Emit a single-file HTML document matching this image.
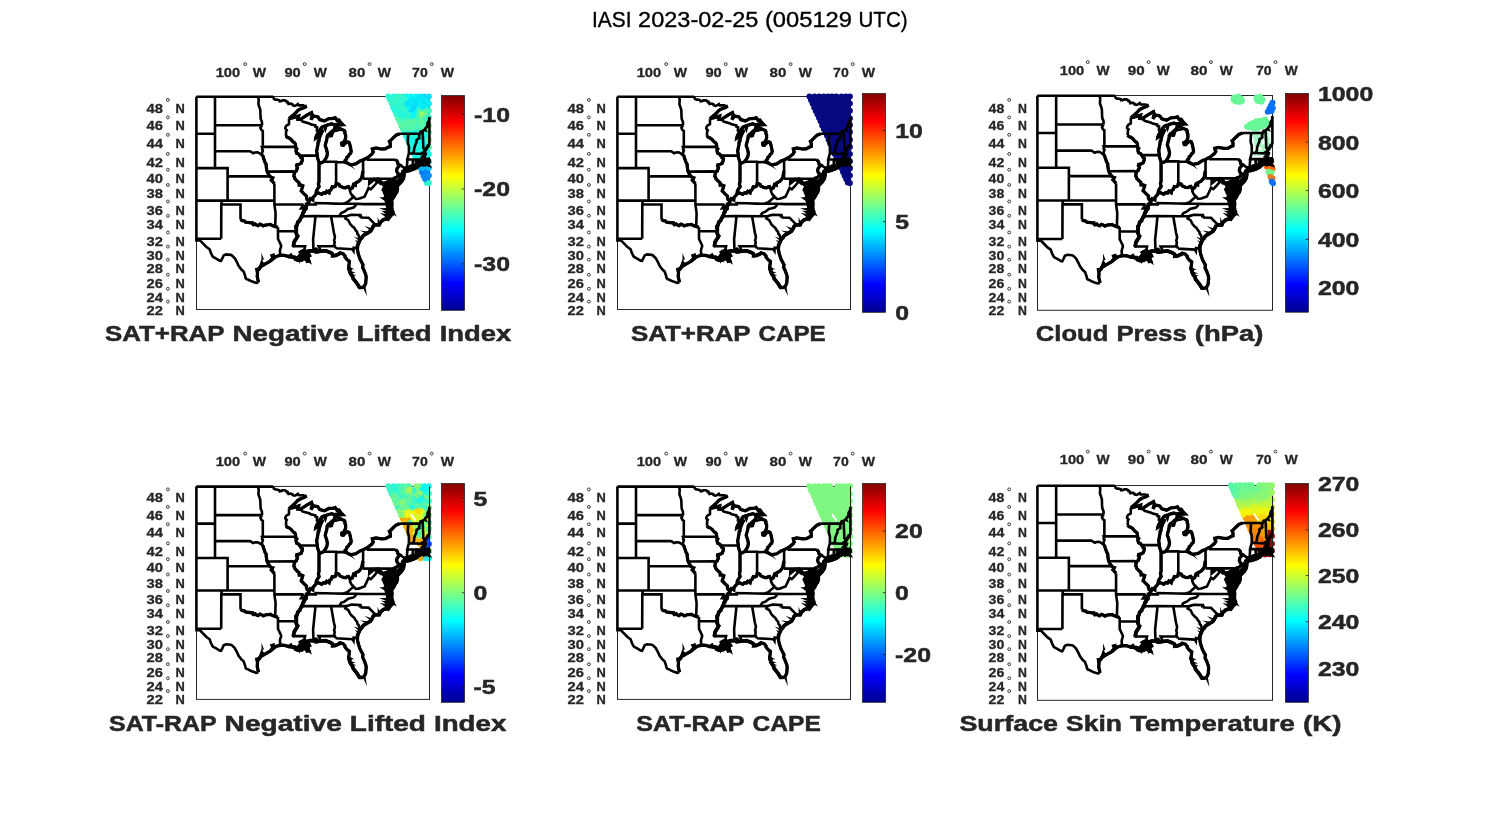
<!DOCTYPE html>
<html><head><meta charset="utf-8"><title>IASI 2023-02-25</title>
<style>html,body{margin:0;padding:0;background:#fff;overflow:hidden}svg{display:block;will-change:transform;-webkit-font-smoothing:antialiased}text{font-family:"Liberation Sans", sans-serif}</style>
</head><body>
<svg width="1500" height="825" viewBox="0 0 1500 825">
<defs>
<linearGradient id="jet" x1="0" y1="1" x2="0" y2="0"><stop offset="0" stop-color="#00008f"/><stop offset="0.125" stop-color="#0000ff"/><stop offset="0.375" stop-color="#00ffff"/><stop offset="0.625" stop-color="#ffff00"/><stop offset="0.875" stop-color="#ff0000"/><stop offset="1" stop-color="#800000"/></linearGradient>
<g id="m"><path d="M-0.1 0.2L-0.1 143.9L2.9 143.9 M-0.1 0.2L76.7 0.2 M232.9 20.4L232.9 48.5 M232.9 63.0L232.9 66.0 M18.5 0.2L18.5 71.6 M-0.1 37.2L18.5 37.2 M18.5 28.7L65.6 28.7 M18.5 54.7L53.4 54.7L54.7 55.3L56.6 56.7L58.5 56.0L60.4 55.8L61.6 56.0L63.2 57.0L64.8 58.1L66.3 59.1 M-0.1 71.6L31.1 71.6L31.1 79.9 M31.1 79.9L73.5 79.9 M31.1 79.9L31.1 104.1 M-0.1 104.1L77.9 104.1 M25.1 104.1L25.1 108.0L24.8 108.0L24.7 142.3 M24.7 142.3L2.3 142.3L2.9 143.9 M25.1 108.0L44.0 108.0L44.0 123.0 M44.0 123.0L45.9 124.2L47.8 124.4L49.0 125.6L50.6 125.8L52.8 126.1L54.4 126.3L55.9 126.3L56.1 127.3L56.9 128.2L58.7 127.4L60.0 128.6L61.6 129.2L62.2 128.6L63.5 127.7L65.4 128.5L66.8 129.4L68.2 128.8L70.1 128.3L72.3 128.2L73.9 127.9L76.1 129.2L78.7 130.0L79.9 130.5L81.5 130.7 M76.7 0.2L77.4 2.3L78.9 3.1L80.1 3.1L82.8 3.8L83.1 4.8L85.1 4.5L85.9 3.9L88.2 3.9L89.8 4.6L90.2 5.6L91.1 5.5L92.0 7.6L94.4 7.1L96.2 8.1L96.2 8.7L97.9 9.3L99.1 9.0L101.4 7.5L102.2 8.9L106.8 8.9L107.6 9.8L108.5 9.5L110.2 9.6 M110.2 9.6L108.5 10.7L106.9 11.4L104.8 12.1L101.5 13.8L99.0 16.5L96.4 18.9L93.8 21.0L92.5 22.2 M92.5 22.2L92.5 27.6L92.2 28.0L90.3 28.8L88.9 30.7L88.8 32.1L90.3 33.6L89.6 34.7L89.6 37.2L89.3 39.4 M89.3 39.4L91.0 41.0L92.3 41.3L94.8 43.1L95.1 43.7L97.0 45.7L97.9 46.1L98.8 47.3L99.3 50.4L99.3 51.7L100.3 52.5L99.5 54.0L99.6 54.8L100.2 56.8L102.4 57.8L102.9 58.9L104.3 60.4L104.5 61.3L105.9 62.2L105.6 64.7L105.0 65.5L104.8 66.7L102.8 67.8L100.3 68.3L100.0 69.6L101.0 71.1L100.9 72.1L100.1 73.1L99.9 74.4L98.1 75.4L98.0 76.8L97.5 78.3L97.4 79.9L98.0 80.5L98.3 82.1L100.3 84.3L102.4 86.0L102.7 88.6L104.1 88.4L106.3 89.3L105.8 91.1L104.7 94.4L105.4 95.1L107.3 97.1L110.0 99.6L110.0 101.5L110.6 103.1L112.4 104.2L112.6 104.5L112.0 106.3L110.9 107.1L110.6 108.0L109.8 108.0L109.8 109.2L109.0 109.9L109.5 111.7L108.6 111.9L109.0 112.8L107.5 113.8L107.5 115.5L106.5 116.0L105.9 118.7L105.0 119.7L105.4 120.3L104.1 121.7L103.2 123.5L103.3 124.2L101.1 125.5L101.1 127.1L100.2 129.4L99.3 129.8L99.4 131.8L100.1 133.1L99.6 134.8L99.4 136.2L100.3 138.0L100.8 139.7L101.2 139.8L100.7 141.0L99.6 142.4L98.3 144.0L97.4 145.8L97.4 147.7L96.6 149.7 M96.6 149.7L108.6 149.7L108.0 152.1L109.3 154.5L110.0 155.7 M61.4 0.2L62.2 3.1L61.9 7.8L62.9 10.7L63.8 13.5L64.0 19.0L64.2 22.4L65.4 25.2L65.6 28.7 M65.6 28.7L63.9 31.4L64.9 33.5L66.3 34.5L66.3 50.4 M66.3 50.4L65.5 50.5L65.9 51.3L65.6 52.8L66.4 53.7L65.3 57.0L66.3 59.1 M66.3 50.4L99.3 50.4 M66.3 59.1L67.0 61.4L67.5 62.9L68.5 65.8L69.7 67.9L69.7 70.0L70.0 71.6L70.2 73.5L70.6 75.0L72.0 77.8L73.5 79.9L75.0 81.1L76.2 81.4L75.7 82.5L74.8 83.6L76.1 85.0L77.9 87.2 M77.9 87.2L77.9 108.0L79.1 116.6L78.7 130.0 M81.5 130.7L81.5 142.4L82.9 145.3L84.3 148.2L84.7 149.7L83.7 152.7L83.4 154.8L83.7 156.6L82.8 159.2 M70.6 75.1L96.1 74.9L98.0 76.8 M77.9 108.0L106.0 108.0L106.6 108.9L104.6 111.9L108.6 111.9 M81.5 134.7L99.6 134.8 M102.9 58.9L120.8 59.1 M104.3 23.0L106.2 25.1L112.7 26.9L114.2 27.8L118.8 28.9L118.9 30.2L120.6 30.7L120.4 33.9L121.7 34.1L121.2 35.4L122.1 36.4 M122.5 65.3L122.5 85.2L121.9 87.3L122.6 90.2L121.1 92.4L119.9 94.4L119.4 97.7 M127.0 65.3L139.6 65.3L139.6 65.8L148.2 65.5 M139.6 65.8L139.6 87.2 M166.6 74.6L166.1 76.1L165.8 78.3L165.3 80.7L164.4 82.5L162.2 84.9L160.1 85.9L158.9 86.6L158.8 88.6L157.1 87.9L155.9 91.4L153.6 92.8L152.0 90.1L150.8 90.3L149.1 91.3L146.8 91.1L143.3 89.5L142.8 88.1L141.5 87.3L139.6 87.2L139.1 89.7L137.2 90.6L135.7 90.3L134.4 93.4L133.2 93.9L132.6 96.4L130.2 94.8L128.9 96.7L127.0 96.3L125.2 97.9L122.1 96.4L120.0 96.9L119.4 97.7L118.5 98.8L116.5 101.0L116.3 103.5L113.7 102.2L112.4 104.2 M110.6 108.0L119.2 108.0L119.1 106.6L129.0 106.8L138.4 107.1L146.7 107.2 M146.7 107.2L150.1 106.1L151.8 104.9L155.4 101.7L157.5 99.8 M157.5 99.8L155.4 98.7L154.2 96.5L153.5 94.8L153.6 92.8 M146.7 107.2L159.3 107.3L168.0 107.6L195.7 107.6 M159.3 107.3L159.0 109.2L157.1 111.0L153.5 111.9L151.7 112.3L147.9 115.2L144.7 116.5L142.7 119.7 M150.3 119.6L142.7 119.7L118.3 119.6L105.0 119.7 M118.3 119.6L118.9 120.5L116.6 143.1L117.0 154.3 M134.6 119.8L137.3 135.8L138.4 140.1L138.1 142.3L137.6 143.8L138.2 145.7L137.7 148.2L138.4 149.7L139.3 151.8 M138.4 149.7L122.1 149.7L123.3 152.1L122.6 154.9 M139.3 151.8L156.0 152.8L157.0 154.4L157.2 151.2L160.9 151.8 M150.3 119.6L148.9 122.0L151.7 123.6L152.2 124.5L153.8 127.7L156.1 130.1L157.8 131.4L159.2 133.9L160.5 135.2L161.0 137.6L161.9 138.2L162.9 141.5L164.3 142.1 M150.3 119.6L155.1 118.2L163.4 118.5L163.4 119.3L164.1 118.9L165.0 121.0L172.0 121.2L179.0 128.3 M157.5 99.8L157.8 101.1L159.3 102.5L162.2 102.2L164.5 101.4L168.0 100.1L169.9 96.2L172.1 91.4L174.3 92.8L177.0 90.0L180.0 86.5L180.3 84.3L183.6 87.0L184.3 85.5 M184.3 85.5L183.6 83.2L181.3 82.4L179.7 83.8L177.7 82.8L175.8 84.3L173.1 86.5L173.2 82.2 M166.6 63.4L166.6 82.2 M166.6 82.2L196.4 82.2 M171.4 60.9L171.4 63.2L199.2 63.2 M199.2 63.2L201.0 65.2L201.5 67.6L203.4 68.6L200.6 71.9L200.1 74.2L201.0 76.5L202.9 78.2L200.6 80.3L198.8 81.6L197.9 83.0 M203.4 68.6L208.3 71.7 M198.8 81.6L197.6 81.2L196.4 82.2L196.4 92.4L201.1 92.5 M184.3 85.5L185.7 87.1L188.6 89.7L186.9 92.9L188.8 93.7L191.3 94.9L193.2 96.5 M196.1 96.5L197.5 96.1L199.9 95.9 M203.2 37.2L223.4 37.1L224.1 35.0L226.1 34.4 M226.1 34.4L227.9 33.3L228.9 33.7L228.4 32.6L229.4 31.2L230.4 30.6L230.2 30.0L231.3 28.6L230.9 27.7L231.1 26.5L231.7 25.2L232.5 24.4L232.9 20.4 M211.9 37.1L211.5 40.7L211.3 46.0L212.4 49.9L212.4 56.8 M212.4 56.8L210.8 62.8L210.9 62.8L210.5 69.1L211.0 69.9L209.4 70.8L209.8 71.6 M223.4 37.1L222.6 39.4L222.9 41.6L220.1 43.4L219.9 46.0L219.0 48.0L217.8 51.2L217.5 54.7L216.8 56.0L217.4 57.0 M212.4 56.8L217.4 57.0L224.8 57.3L225.0 56.9L225.4 56.5L226.4 55.9L227.7 55.8 M226.1 34.4L226.5 43.4L226.8 49.8L226.7 51.4L227.7 52.7L228.5 54.2 M210.9 62.8L221.6 63.1L224.2 63.1L224.2 64.1L224.5 65.1L225.3 65.9L225.8 67.4 M216.5 63.0L216.2 66.6L217.8 69.1 M221.6 63.1L221.6 66.6L221.2 69.0 M203.2 37.2L199.5 38.7L196.4 41.6L193.8 44.3L192.9 44.9L193.8 46.9L193.8 49.9L192.0 50.6L188.8 52.3L185.0 52.5L179.4 51.5L175.8 52.4L176.2 54.3L176.8 55.5L175.6 57.4L171.4 60.9L169.3 62.0L166.6 63.4L163.6 64.5L159.2 67.4L154.2 68.3L152.0 67.4L150.4 66.4L148.2 65.5L148.5 64.1L150.1 62.4L150.4 60.7L151.7 59.8L152.9 57.7L154.2 56.8L154.7 54.7L154.2 52.1L153.5 48.6L152.6 46.0L151.3 45.4L149.1 46.4L147.0 48.7L145.3 48.1L145.1 46.7L146.5 45.9L147.7 47.1L146.5 47.9L146.1 46.9L148.0 45.7L148.3 43.8L149.1 41.6L149.1 38.5L148.3 36.6L148.5 35.4L147.9 34.1L146.0 33.3L141.8 31.4L140.1 30.2L138.4 30.9L137.8 33.6L138.7 33.9L136.8 34.3L135.9 35.4L135.3 37.6L135.0 39.2L134.5 39.3L134.7 37.2L135.0 35.4L134.0 36.3L132.1 38.1L131.7 38.1L130.6 39.8L130.7 40.5L130.1 43.8L129.3 46.4L128.7 49.1L130.0 52.7L130.9 56.7L130.4 59.8L129.1 62.4L127.0 65.3L124.6 66.4L123.6 66.6L122.5 65.8L122.1 64.5L121.4 62.4L120.8 60.2L120.8 59.1L120.2 54.4L121.4 48.2L121.7 45.1L122.4 44.7L122.7 42.0L124.0 38.5L125.8 34.5L124.6 37.2L123.4 38.5L121.4 39.8L119.5 41.2L119.9 39.4L120.8 37.6L122.1 36.3L123.6 33.2L125.5 30.5L127.7 29.6L128.7 31.8L129.3 29.6L130.6 28.6L135.3 27.3L140.2 29.4L142.8 28.2L146.3 28.2L144.1 25.9L142.5 23.6L140.6 23.8L138.7 21.2L137.2 21.8L135.3 22.0L132.3 22.1L128.0 24.4L123.3 23.2L121.4 20.4L120.2 20.0L116.9 19.5L114.5 23.1L115.8 18.5L115.0 16.1L110.6 18.5L105.3 21.9L104.3 23.0L101.4 22.7L101.9 20.9L102.2 19.5L99.4 20.4L94.4 21.8L93.7 21.3 M232.9 48.5L231.6 49.2L231.6 49.8L230.7 50.7L230.1 51.8L229.2 53.0L228.5 54.1L227.9 55.5L227.7 55.8L227.9 56.8L229.0 57.4L228.7 58.3L227.4 58.8L227.1 59.7L226.4 60.4L227.3 60.7L228.4 61.5L228.8 63.6L229.7 65.2L231.0 65.6L231.8 65.3L232.9 65.1L232.7 63.8L232.4 63.2L231.6 62.8L232.3 62.6L232.9 63.0 M232.9 66.0L231.0 66.4L229.1 67.0L228.7 67.3L229.0 65.4L228.4 65.3L227.1 66.6L226.0 67.4L225.3 67.8L224.7 67.8L224.4 65.8L224.1 64.9L223.9 67.4L223.6 68.6L221.2 69.1L219.7 69.1L218.1 69.4L214.6 69.5L212.9 70.4L210.6 71.5L209.8 71.8L209.1 72.7L208.0 73.3L208.3 71.7L208.0 73.3L207.5 74.1 M207.5 75.0L208.3 75.4L210.8 75.1L214.0 74.3L217.8 72.9L221.2 71.1L218.4 71.8L216.2 72.2L218.8 70.3L216.2 71.9L213.6 72.0L210.8 72.5L209.1 73.3L207.5 75.0 M227.7 68.7L229.1 67.7L230.1 68.5L227.7 68.7 M231.6 69.1L232.6 68.9L232.9 69.4L231.6 69.1 M206.1 75.8L207.1 74.5L207.4 75.0L206.1 75.8 M207.5 74.1L206.4 74.7L206.0 76.0L207.7 76.0L207.7 78.3L207.1 82.0L205.1 85.2L201.8 88.6L202.0 86.7L200.1 85.8L198.3 84.0L197.9 83.0 M197.9 83.0L197.9 84.4L198.9 87.3L199.5 88.9L200.8 89.7L201.1 92.5L200.9 93.5L200.1 96.1L199.2 96.9L197.6 100.1L195.7 103.1L195.3 103.3L195.1 102.1L195.7 99.7L197.3 96.5L196.1 96.3L195.7 94.1L193.2 92.1L193.8 90.1L192.9 88.9L193.8 87.3L194.5 85.2L195.1 83.6L194.6 83.6L192.0 86.0L192.1 88.3L192.0 92.1L192.6 92.9L193.1 95.8L191.3 94.9L193.2 96.5L193.6 97.1L193.2 99.3L190.1 96.5L193.2 99.7L193.2 101.7L190.1 100.1L192.6 102.3L193.2 104.1L188.8 102.1L193.2 104.5L195.1 104.6L195.3 105.2L195.7 107.6 M195.7 107.6L195.2 110.3L195.7 113.5L196.4 117.3L194.5 119.1L191.8 122.7L190.7 121.9L186.9 123.1L183.8 125.8L182.8 128.4L179.0 128.3 M195.7 107.6L194.8 110.3L195.1 111.9L190.7 111.9L195.1 112.7L196.7 115.0L195.1 116.5L192.0 116.9L188.8 115.8L192.0 117.7L192.0 119.6L188.8 118.9L191.3 120.8L191.8 122.7 M179.0 128.3L176.8 129.5L175.0 133.3L174.0 134.8L170.5 136.7L167.4 138.6L165.8 140.1L165.5 141.2L164.3 142.1L163.0 144.5L161.7 147.5L161.1 148.9L160.9 151.8 M160.9 151.8L161.1 154.1L161.9 157.7L163.6 162.8L166.5 168.2L166.1 170.7L167.7 174.2L169.3 178.5L169.7 180.6L169.2 186.9L168.0 189.4L167.1 190.4L165.2 191.1L163.0 191.1L160.5 186.9L158.6 184.5L156.7 182.4L156.1 179.9L154.5 177.8L153.5 176.0L152.9 174.2L154.2 171.7L152.6 173.2L152.1 171.4L152.6 167.8L152.9 164.9L150.7 163.3L148.5 160.6L148.5 159.4L146.6 157.3L143.5 156.4L142.5 157.3L142.2 157.7L140.6 158.1L138.4 159.2L136.2 159.4L136.5 158.2L135.9 157.3L134.0 156.1L129.0 154.2L124.6 154.6L122.6 154.9 M122.6 154.9L121.4 155.3L119.5 155.4L119.5 152.0L118.9 154.4L117.0 154.3L116.1 154.4L113.9 154.1L112.6 154.3L111.0 154.8L110.0 155.7 M110.0 155.7L108.2 155.2L106.3 154.4L104.4 155.5L106.3 156.6L108.2 156.3L109.5 156.6L112.0 157.0L113.2 159.2L110.7 160.6L111.7 162.1L111.7 163.1L112.3 164.2L110.7 164.7L109.5 162.4L107.3 162.3L106.9 162.4L105.7 163.5L103.8 163.9L101.3 163.9L98.8 162.8L98.1 160.6L95.3 160.6L94.4 158.8L92.5 160.2L88.1 158.9L85.9 158.7L82.8 159.2 M82.8 159.2L81.1 159.5L79.2 160.2L77.0 161.6L76.7 158.8L75.5 159.2L76.7 162.1L74.8 163.6L73.6 164.7L69.5 167.1L66.6 168.5L65.4 166.4L64.4 169.2L62.6 172.5L60.4 172.8L61.0 176.4L60.7 179.9L61.8 185.0L61.9 185.8 M61.9 185.8L59.7 186.4L55.9 185.1L52.8 183.8L51.5 182.9L50.3 182.7L49.2 181.7L48.6 179.2L47.1 174.9L44.9 173.0L42.1 169.4L40.8 166.4L38.3 161.7L35.2 158.7L34.2 158.4L29.5 157.9L27.2 158.9L25.9 161.7L24.5 164.4L23.2 164.2L20.1 162.3L16.3 160.2L14.4 156.6L13.1 152.8L10.0 150.6L6.2 146.7L3.7 144.1L2.9 143.9" fill="none" stroke="#000" stroke-width="2.6" stroke-linejoin="miter" stroke-miterlimit="5"/>
<path d="M89.3 39.4L91.0 41.0L92.3 41.3L94.8 43.1L95.1 43.7L97.0 45.7L97.9 46.1L98.8 47.3L99.3 50.4L99.3 51.7L100.3 52.5L99.5 54.0L99.6 54.8L100.2 56.8L102.4 57.8L102.9 58.9L104.3 60.4L104.5 61.3L105.9 62.2L105.6 64.7L105.0 65.5L104.8 66.7L102.8 67.8L100.3 68.3L100.0 69.6L101.0 71.1L100.9 72.1L100.1 73.1L99.9 74.4L98.1 75.4L98.0 76.8L97.5 78.3L97.4 79.9L98.0 80.5L98.3 82.1L100.3 84.3L102.4 86.0L102.7 88.6L104.1 88.4L106.3 89.3L105.8 91.1L104.7 94.4L105.4 95.1L107.3 97.1L110.0 99.6L110.0 101.5L110.6 103.1L112.4 104.2L112.6 104.5L112.0 106.3L110.9 107.1L110.6 108.0L109.8 108.0L109.8 109.2L109.0 109.9L109.5 111.7L108.6 111.9L109.0 112.8L107.5 113.8L107.5 115.5L106.5 116.0L105.9 118.7L105.0 119.7L105.4 120.3L104.1 121.7L103.2 123.5L103.3 124.2L101.1 125.5L101.1 127.1L100.2 129.4L99.3 129.8L99.4 131.8L100.1 133.1L99.6 134.8L99.4 136.2L100.3 138.0L100.8 139.7L101.2 139.8L100.7 141.0L99.6 142.4L98.3 144.0L97.4 145.8L97.4 147.7L96.6 149.7 M166.6 74.6L166.1 76.1L165.8 78.3L165.3 80.7L164.4 82.5L162.2 84.9L160.1 85.9L158.9 86.6L158.8 88.6L157.1 87.9L155.9 91.4L153.6 92.8L152.0 90.1L150.8 90.3L149.1 91.3L146.8 91.1L143.3 89.5L142.8 88.1L141.5 87.3L139.6 87.2L139.1 89.7L137.2 90.6L135.7 90.3L134.4 93.4L133.2 93.9L132.6 96.4L130.2 94.8L128.9 96.7L127.0 96.3L125.2 97.9L122.1 96.4L120.0 96.9L119.4 97.7L118.5 98.8L116.5 101.0L116.3 103.5L113.7 102.2L112.4 104.2 M203.2 37.2L199.5 38.7L196.4 41.6L193.8 44.3L192.9 44.9L193.8 46.9L193.8 49.9L192.0 50.6L188.8 52.3L185.0 52.5L179.4 51.5L175.8 52.4L176.2 54.3L176.8 55.5L175.6 57.4L171.4 60.9L169.3 62.0L166.6 63.4L163.6 64.5L159.2 67.4L154.2 68.3L152.0 67.4L150.4 66.4L148.2 65.5L148.5 64.1L150.1 62.4L150.4 60.7L151.7 59.8L152.9 57.7L154.2 56.8L154.7 54.7L154.2 52.1L153.5 48.6L152.6 46.0L151.3 45.4L149.1 46.4L147.0 48.7L145.3 48.1L145.1 46.7L146.5 45.9L147.7 47.1L146.5 47.9L146.1 46.9L148.0 45.7L148.3 43.8L149.1 41.6L149.1 38.5L148.3 36.6L148.5 35.4L147.9 34.1L146.0 33.3L141.8 31.4L140.1 30.2L138.4 30.9L137.8 33.6L138.7 33.9L136.8 34.3L135.9 35.4L135.3 37.6L135.0 39.2L134.5 39.3L134.7 37.2L135.0 35.4L134.0 36.3L132.1 38.1L131.7 38.1L130.6 39.8L130.7 40.5L130.1 43.8L129.3 46.4L128.7 49.1L130.0 52.7L130.9 56.7L130.4 59.8L129.1 62.4L127.0 65.3L124.6 66.4L123.6 66.6L122.5 65.8L122.1 64.5L121.4 62.4L120.8 60.2L120.8 59.1L120.2 54.4L121.4 48.2L121.7 45.1L122.4 44.7L122.7 42.0L124.0 38.5L125.8 34.5L124.6 37.2L123.4 38.5L121.4 39.8L119.5 41.2L119.9 39.4L120.8 37.6L122.1 36.3L123.6 33.2L125.5 30.5L127.7 29.6L128.7 31.8L129.3 29.6L130.6 28.6L135.3 27.3L140.2 29.4L142.8 28.2L146.3 28.2L144.1 25.9L142.5 23.6L140.6 23.8L138.7 21.2L137.2 21.8L135.3 22.0L132.3 22.1L128.0 24.4L123.3 23.2L121.4 20.4L120.2 20.0L116.9 19.5L114.5 23.1L115.8 18.5L115.0 16.1L110.6 18.5L105.3 21.9L104.3 23.0L101.4 22.7L101.9 20.9L102.2 19.5L99.4 20.4L94.4 21.8L93.7 21.3 M184.3 85.5L183.6 83.2L181.3 82.4L179.7 83.8L177.7 82.8L175.8 84.3L173.1 86.5L173.2 82.2 M184.3 85.5L185.7 87.1L188.6 89.7L186.9 92.9L188.8 93.7L191.3 94.9L193.2 96.5 M44.0 123.0L45.9 124.2L47.8 124.4L49.0 125.6L50.6 125.8L52.8 126.1L54.4 126.3L55.9 126.3L56.1 127.3L56.9 128.2L58.7 127.4L60.0 128.6L61.6 129.2L62.2 128.6L63.5 127.7L65.4 128.5L66.8 129.4L68.2 128.8L70.1 128.3L72.3 128.2L73.9 127.9L76.1 129.2L78.7 130.0L79.9 130.5L81.5 130.7 M82.8 159.2L81.1 159.5L79.2 160.2L77.0 161.6L76.7 158.8L75.5 159.2L76.7 162.1L74.8 163.6L73.6 164.7L69.5 167.1L66.6 168.5L65.4 166.4L64.4 169.2L62.6 172.5L60.4 172.8L61.0 176.4L60.7 179.9L61.8 185.0L61.9 185.8 M110.0 155.7L108.2 155.2L106.3 154.4L104.4 155.5L106.3 156.6L108.2 156.3L109.5 156.6L112.0 157.0L113.2 159.2L110.7 160.6L111.7 162.1L111.7 163.1L112.3 164.2L110.7 164.7L109.5 162.4L107.3 162.3L106.9 162.4L105.7 163.5L103.8 163.9L101.3 163.9L98.8 162.8L98.1 160.6L95.3 160.6L94.4 158.8L92.5 160.2L88.1 158.9L85.9 158.7L82.8 159.2 M122.6 154.9L121.4 155.3L119.5 155.4L119.5 152.0L118.9 154.4L117.0 154.3L116.1 154.4L113.9 154.1L112.6 154.3L111.0 154.8L110.0 155.7 M160.9 151.8L161.1 154.1L161.9 157.7L163.6 162.8L166.5 168.2L166.1 170.7L167.7 174.2L169.3 178.5L169.7 180.6L169.2 186.9L168.0 189.4L167.1 190.4L165.2 191.1L163.0 191.1L160.5 186.9L158.6 184.5L156.7 182.4L156.1 179.9L154.5 177.8L153.5 176.0L152.9 174.2L154.2 171.7L152.6 173.2L152.1 171.4L152.6 167.8L152.9 164.9L150.7 163.3L148.5 160.6L148.5 159.4L146.6 157.3L143.5 156.4L142.5 157.3L142.2 157.7L140.6 158.1L138.4 159.2L136.2 159.4L136.5 158.2L135.9 157.3L134.0 156.1L129.0 154.2L124.6 154.6L122.6 154.9 M179.0 128.3L176.8 129.5L175.0 133.3L174.0 134.8L170.5 136.7L167.4 138.6L165.8 140.1L165.5 141.2L164.3 142.1L163.0 144.5L161.7 147.5L161.1 148.9L160.9 151.8 M195.7 107.6L195.2 110.3L195.7 113.5L196.4 117.3L194.5 119.1L191.8 122.7L190.7 121.9L186.9 123.1L183.8 125.8L182.8 128.4L179.0 128.3 M232.9 48.5L231.6 49.2L231.6 49.8L230.7 50.7L230.1 51.8L229.2 53.0L228.5 54.1L227.9 55.5L227.7 55.8L227.9 56.8L229.0 57.4L228.7 58.3L227.4 58.8L227.1 59.7L226.4 60.4L227.3 60.7L228.4 61.5L228.8 63.6L229.7 65.2L231.0 65.6L231.8 65.3L232.9 65.1L232.7 63.8L232.4 63.2L231.6 62.8L232.3 62.6L232.9 63.0 M232.9 66.0L231.0 66.4L229.1 67.0L228.7 67.3L229.0 65.4L228.4 65.3L227.1 66.6L226.0 67.4L225.3 67.8L224.7 67.8L224.4 65.8L224.1 64.9L223.9 67.4L223.6 68.6L221.2 69.1L219.7 69.1L218.1 69.4L214.6 69.5L212.9 70.4L210.6 71.5L209.8 71.8L209.1 72.7L208.0 73.3L208.3 71.7L208.0 73.3L207.5 74.1 M207.5 74.1L206.4 74.7L206.0 76.0L207.7 76.0L207.7 78.3L207.1 82.0L205.1 85.2L201.8 88.6L202.0 86.7L200.1 85.8L198.3 84.0L197.9 83.0 M197.9 83.0L197.9 84.4L198.9 87.3L199.5 88.9L200.8 89.7L201.1 92.5L200.9 93.5L200.1 96.1L199.2 96.9L197.6 100.1L195.7 103.1L195.3 103.3L195.1 102.1L195.7 99.7L197.3 96.5L196.1 96.3L195.7 94.1L193.2 92.1L193.8 90.1L192.9 88.9L193.8 87.3L194.5 85.2L195.1 83.6L194.6 83.6L192.0 86.0L192.1 88.3L192.0 92.1L192.6 92.9L193.1 95.8L191.3 94.9L193.2 96.5L193.6 97.1L193.2 99.3L190.1 96.5L193.2 99.7L193.2 101.7L190.1 100.1L192.6 102.3L193.2 104.1L188.8 102.1L193.2 104.5L195.1 104.6L195.3 105.2L195.7 107.6 M110.2 9.6L108.5 10.7L106.9 11.4L104.8 12.1L101.5 13.8L99.0 16.5L96.4 18.9L93.8 21.0L92.5 22.2 M199.2 63.2L201.0 65.2L201.5 67.6L203.4 68.6L200.6 71.9L200.1 74.2L201.0 76.5L202.9 78.2L200.6 80.3L198.8 81.6L197.9 83.0 M66.3 59.1L67.0 61.4L67.5 62.9L68.5 65.8L69.7 67.9L69.7 70.0L70.0 71.6L70.2 73.5L70.6 75.0L72.0 77.8L73.5 79.9L75.0 81.1L76.2 81.4L75.7 82.5L74.8 83.6L76.1 85.0L77.9 87.2 M122.5 65.3L122.5 85.2L121.9 87.3L122.6 90.2L121.1 92.4L119.9 94.4L119.4 97.7" fill="none" stroke="#000" stroke-width="3.3" stroke-linejoin="miter" stroke-miterlimit="4"/>
<path d="M184.3 85.5L186.9 85.9L189.4 85.4L191.6 84.0L193.8 83.0L196.4 82.2L198.6 81.6L197.9 84.0L199.2 88.1L200.6 89.7L200.9 92.9L199.7 96.5L197.5 100.1L195.6 103.3L195.2 104.9L195.7 107.6L195.2 111.1L195.7 114.2L196.4 117.3L194.5 119.0L192.0 122.1L190.4 121.6L189.4 120.0L188.8 118.9L190.4 118.1L188.8 115.8L191.0 115.0L189.8 112.7L190.4 110.7L189.4 107.2L188.8 104.1L186.6 101.7L188.8 100.1L186.2 94.1L186.9 92.1L188.3 89.3L185.7 87.3Z M207.4 74.6L209.0 73.1L209.9 71.8L212.7 70.6L214.6 69.5L219.0 69.0L219.0 63.2L224.2 63.2L226.6 62.6L232.9 62.6L232.9 66.9L229.7 67.7L226.6 68.5L223.4 69.4L221.1 71.5L217.1 73.3L212.1 75.0L207.7 75.5L206.1 75.8Z M207.4 76.2L207.4 82.0L205.2 85.0L202.0 88.5L201.7 86.5L200.8 86.0L201.1 83.2L203.0 82.0L202.7 79.1L204.9 76.5Z M104.1 154.4L107.6 154.1L109.8 155.5L112.0 156.6L112.9 159.2L111.4 161.3L112.0 163.5L110.4 164.6L108.8 162.1L106.3 163.1L102.5 163.9L99.4 162.8L98.8 160.6L101.3 159.9L103.2 157.3Z M145.0 49.5L147.6 49.1L148.2 46.4L146.3 45.8L144.9 46.9Z" fill="#000" stroke="#000" stroke-width="1.6" stroke-linejoin="round"/>
<path d="M191.3 122.1L186.9 123.2L183.8 125.8L182.7 128.3L179.0 128.3L176.8 129.7L175.0 133.3L173.8 134.8L170.5 136.9L167.4 138.7L165.8 140.2L165.4 141.3L164.1 142.3L162.9 144.5L161.7 147.5L161.0 148.9L160.8 151.7 M163.0 190.8L160.5 186.9L158.6 184.5L156.7 182.0L155.8 179.5L154.5 177.8L153.4 175.7L152.9 173.2L152.3 171.4 M143.5 156.6L142.2 157.6L139.1 159.0L136.2 159.2L135.9 157.3L134.0 156.1L129.0 154.2L124.6 154.6L122.6 154.9L119.5 155.2L119.5 152.6L118.9 154.4L113.9 154.2L110.0 155.5 M98.8 161.7L95.3 160.2L92.5 160.1 M78.0 161.0L76.1 162.1L74.5 163.9 M67.3 168.2L64.8 169.6L62.6 172.1L61.0 174.2 M112.4 104.2L112.0 106.3L110.4 108.0L109.5 111.1L108.2 113.5L106.6 116.5L105.4 119.6L103.5 123.1L101.3 126.1L100.0 129.5L99.7 133.3L100.0 137.8L101.0 139.7L99.4 142.7L97.5 146.0L96.9 149.3 M119.5 41.2L122.1 38.5L124.6 35.4L125.8 34.5 M138.4 28.2L141.6 27.7L144.7 28.2L142.8 25.0L141.0 24.1 M134.7 39.0L135.3 36.7L136.2 35.4" fill="none" stroke="#000" stroke-width="3.6" stroke-linejoin="round" stroke-linecap="round"/>
<path d="M149.1 66.3L159.1 73.5L150.9 64.3Z M166.0 190.2L170.5 199.8L168.8 189.4Z M188.1 100.9L182.8 100.8L187.3 103.7Z M190.6 111.6L182.5 111.7L190.0 114.6Z M189.6 114.5L184.5 114.3L189.0 116.9Z M194.9 117.3L200.4 120.1L197.3 114.9Z M183.8 127.5L181.1 120.2L181.2 127.9Z M175.2 132.0L168.0 129.3L173.8 134.2Z M171.2 135.1L163.5 133.9L170.4 137.5Z M164.0 142.4L157.1 140.0L162.8 144.6Z M162.9 145.6L158.3 143.3L161.5 147.4Z M67.5 163.1L64.9 156.3L65.1 163.5Z M101.9 163.9L102.8 167.3L104.3 164.1Z M111.3 165.4L115.5 168.3L113.7 163.6Z M153.1 172.9L158.1 172.8L153.5 170.7Z M154.3 176.8L159.3 176.5L154.7 174.6Z M155.4 179.6L160.0 178.8L155.6 177.4Z" fill="#000"/></g>
</defs>
<rect width="1500" height="825" fill="#fff"/>
<text x="592.0" y="26.9" font-size="21.60" font-weight="normal" fill="#000" text-anchor="start" textLength="39.5" lengthAdjust="spacingAndGlyphs" stroke="#000" stroke-width="0.35">IASI</text>
<text x="638.1" y="26.9" font-size="21.60" font-weight="normal" fill="#000" text-anchor="start" textLength="120.3" lengthAdjust="spacingAndGlyphs" stroke="#000" stroke-width="0.35">2023-02-25</text>
<text x="764.9" y="26.9" font-size="21.60" font-weight="normal" fill="#000" text-anchor="start" textLength="87.1" lengthAdjust="spacingAndGlyphs" stroke="#000" stroke-width="0.35">(005129</text>
<text x="858.5" y="26.9" font-size="21.60" font-weight="normal" fill="#000" text-anchor="start" textLength="49.1" lengthAdjust="spacingAndGlyphs" stroke="#000" stroke-width="0.35">UTC)</text>
<rect x="196.5" y="96.5" width="233.0" height="213.0" fill="#fff" stroke="#262626" stroke-width="1"/>
<g><circle cx="426.7" cy="165.2" r="3.00" fill="#08bbf7"/><circle cx="417.9" cy="121.7" r="3.00" fill="#4bf7b4"/><circle cx="402.1" cy="111.0" r="3.00" fill="#30f7cf"/><circle cx="398.5" cy="110.9" r="3.00" fill="#27f7d8"/><circle cx="413.7" cy="128.8" r="3.00" fill="#5bf7a4"/><circle cx="407.6" cy="139.5" r="3.00" fill="#22f7dd"/><circle cx="426.7" cy="107.4" r="3.00" fill="#08f6f7"/><circle cx="399.6" cy="121.6" r="3.00" fill="#59f7a6"/><circle cx="422.5" cy="143.1" r="3.00" fill="#1bf7e4"/><circle cx="420.4" cy="118.2" r="3.00" fill="#5cf7a3"/><circle cx="415.9" cy="118.0" r="3.00" fill="#40f7bf"/><circle cx="416.0" cy="153.6" r="3.00" fill="#25f7da"/><circle cx="415.9" cy="96.4" r="3.00" fill="#08f7f7"/><circle cx="410.9" cy="124.8" r="3.00" fill="#58f7a7"/><circle cx="406.9" cy="96.4" r="3.00" fill="#08f3f7"/><circle cx="406.9" cy="110.4" r="3.00" fill="#30f7cf"/><circle cx="388.4" cy="96.4" r="3.00" fill="#2bf7d4"/><circle cx="396.1" cy="107.1" r="3.00" fill="#29f7d6"/><circle cx="426.7" cy="128.5" r="3.00" fill="#84f77b"/><circle cx="406.5" cy="118.3" r="3.00" fill="#46f7b9"/><circle cx="408.9" cy="136.1" r="3.00" fill="#1ff7e0"/><circle cx="424.7" cy="110.9" r="3.00" fill="#67f798"/><circle cx="420.0" cy="154.3" r="3.00" fill="#12f7ed"/><circle cx="415.7" cy="111.0" r="3.00" fill="#0df7f2"/><circle cx="407.1" cy="125.0" r="3.00" fill="#55f7aa"/><circle cx="423.6" cy="175.9" r="3.00" fill="#088ff7"/><circle cx="402.5" cy="96.4" r="3.00" fill="#31f7ce"/><circle cx="393.9" cy="96.4" r="3.00" fill="#24f7db"/><circle cx="422.0" cy="172.2" r="3.00" fill="#0879f7"/><circle cx="402.6" cy="117.8" r="3.00" fill="#26f7d9"/><circle cx="411.1" cy="103.2" r="3.00" fill="#08f7f7"/><circle cx="418.2" cy="107.3" r="3.00" fill="#08f1f7"/><circle cx="410.8" cy="147.1" r="3.00" fill="#18f7e7"/><circle cx="410.9" cy="132.0" r="3.00" fill="#24f7db"/><circle cx="424.2" cy="96.4" r="3.00" fill="#08dbf7"/><circle cx="424.2" cy="132.7" r="3.00" fill="#1cf7e3"/><circle cx="419.7" cy="139.4" r="3.00" fill="#19f7e6"/><circle cx="426.7" cy="121.6" r="3.00" fill="#3cf7c3"/><circle cx="426.7" cy="136.2" r="3.00" fill="#1df7e2"/><circle cx="404.7" cy="107.3" r="3.00" fill="#36f7c9"/><circle cx="404.8" cy="114.4" r="3.00" fill="#26f7d9"/><circle cx="398.5" cy="103.9" r="3.00" fill="#28f7d7"/><circle cx="398.0" cy="118.4" r="3.00" fill="#53f7ac"/><circle cx="399.9" cy="100.0" r="3.00" fill="#23f7dc"/><circle cx="428.9" cy="147.2" r="3.00" fill="#5ef7a1"/><circle cx="419.9" cy="103.4" r="3.00" fill="#08f3f7"/><circle cx="408.9" cy="100.4" r="3.00" fill="#08ebf7"/><circle cx="422.0" cy="128.8" r="3.00" fill="#63f79c"/><circle cx="420.4" cy="161.3" r="3.00" fill="#23f7dc"/><circle cx="415.8" cy="132.7" r="3.00" fill="#13f7ec"/><circle cx="422.2" cy="121.5" r="3.00" fill="#63f79c"/><circle cx="417.7" cy="142.8" r="3.00" fill="#18f7e7"/><circle cx="405.0" cy="99.6" r="3.00" fill="#30f7cf"/><circle cx="424.5" cy="103.6" r="3.00" fill="#08dff7"/><circle cx="420.0" cy="110.8" r="3.00" fill="#56f7a9"/><circle cx="406.6" cy="132.6" r="3.00" fill="#12f7ed"/><circle cx="411.3" cy="110.7" r="3.00" fill="#08d8f7"/><circle cx="420.1" cy="132.2" r="3.00" fill="#22f7dd"/><circle cx="426.8" cy="183.1" r="3.00" fill="#38f7c7"/><circle cx="424.7" cy="125.5" r="3.00" fill="#4ef7b1"/><circle cx="426.7" cy="114.1" r="3.00" fill="#5cf7a3"/><circle cx="394.8" cy="110.5" r="3.00" fill="#28f7d7"/><circle cx="415.6" cy="157.4" r="3.00" fill="#16f7e9"/><circle cx="402.6" cy="103.3" r="3.00" fill="#31f7ce"/><circle cx="409.0" cy="128.8" r="3.00" fill="#52f7ad"/><circle cx="418.8" cy="164.8" r="3.00" fill="#08b0f7"/><circle cx="428.9" cy="154.1" r="3.00" fill="#1af7e5"/><circle cx="401.2" cy="125.5" r="3.00" fill="#5af7a5"/><circle cx="417.8" cy="157.4" r="3.00" fill="#1ef7e1"/><circle cx="398.2" cy="96.4" r="3.00" fill="#35f7ca"/><circle cx="418.1" cy="114.4" r="3.00" fill="#4ef7b1"/><circle cx="419.9" cy="125.5" r="3.00" fill="#5cf7a3"/><circle cx="422.3" cy="114.8" r="3.00" fill="#9af765"/><circle cx="422.4" cy="136.0" r="3.00" fill="#19f7e6"/><circle cx="402.8" cy="128.7" r="3.00" fill="#4cf7b3"/><circle cx="404.4" cy="132.3" r="3.00" fill="#20f7df"/><circle cx="413.8" cy="142.8" r="3.00" fill="#17f7e8"/><circle cx="420.4" cy="96.4" r="3.00" fill="#08e6f7"/><circle cx="416.1" cy="139.9" r="3.00" fill="#11f7ee"/><circle cx="426.7" cy="179.0" r="3.00" fill="#0883f7"/><circle cx="425.2" cy="179.1" r="3.00" fill="#0886f7"/><circle cx="422.6" cy="99.9" r="3.00" fill="#08ebf7"/><circle cx="428.9" cy="110.8" r="3.00" fill="#40f7bf"/><circle cx="411.3" cy="117.9" r="3.00" fill="#0df7f2"/><circle cx="420.4" cy="168.1" r="3.00" fill="#08b3f7"/><circle cx="404.4" cy="121.7" r="3.00" fill="#4bf7b4"/><circle cx="420.4" cy="147.2" r="3.00" fill="#24f7db"/><circle cx="408.7" cy="121.4" r="3.00" fill="#58f7a7"/><circle cx="396.4" cy="114.3" r="3.00" fill="#30f7cf"/><circle cx="400.1" cy="114.4" r="3.00" fill="#24f7db"/><circle cx="422.1" cy="150.5" r="3.00" fill="#1bf7e4"/><circle cx="424.8" cy="168.2" r="3.00" fill="#08b8f7"/><circle cx="426.7" cy="172.1" r="3.00" fill="#0882f7"/><circle cx="422.1" cy="165.0" r="3.00" fill="#08b7f7"/><circle cx="428.9" cy="103.4" r="3.00" fill="#08eef7"/><circle cx="424.8" cy="161.1" r="3.00" fill="#1cf7e3"/><circle cx="426.7" cy="143.6" r="3.00" fill="#1bf7e4"/><circle cx="428.9" cy="161.5" r="3.00" fill="#13f7ec"/><circle cx="409.1" cy="114.8" r="3.00" fill="#2df7d2"/><circle cx="415.8" cy="124.9" r="3.00" fill="#51f7ae"/><circle cx="426.7" cy="150.3" r="3.00" fill="#19f7e6"/><circle cx="393.2" cy="107.4" r="3.00" fill="#23f7dc"/><circle cx="415.5" cy="103.6" r="3.00" fill="#08ddf7"/><circle cx="412.4" cy="150.3" r="3.00" fill="#1cf7e3"/><circle cx="424.4" cy="139.7" r="3.00" fill="#10f7ef"/><circle cx="414.0" cy="153.7" r="3.00" fill="#11f7ee"/><circle cx="424.3" cy="154.0" r="3.00" fill="#12f7ed"/><circle cx="413.8" cy="114.2" r="3.00" fill="#08f7f7"/><circle cx="426.7" cy="99.6" r="3.00" fill="#08ebf7"/><circle cx="424.6" cy="146.5" r="3.00" fill="#1af7e5"/><circle cx="404.3" cy="128.7" r="3.00" fill="#4af7b5"/><circle cx="402.2" cy="125.3" r="3.00" fill="#5bf7a4"/><circle cx="428.9" cy="96.4" r="3.00" fill="#08dff7"/><circle cx="428.9" cy="182.9" r="3.00" fill="#2df7d2"/><circle cx="409.2" cy="143.0" r="3.00" fill="#20f7df"/><circle cx="411.1" cy="96.4" r="3.00" fill="#08f7f7"/><circle cx="428.9" cy="139.7" r="3.00" fill="#62f79d"/><circle cx="418.1" cy="99.6" r="3.00" fill="#08e8f7"/><circle cx="409.4" cy="107.5" r="3.00" fill="#0bf7f4"/><circle cx="422.7" cy="157.8" r="3.00" fill="#24f7db"/><circle cx="424.7" cy="118.3" r="3.00" fill="#47f7b8"/><circle cx="413.5" cy="100.2" r="3.00" fill="#08e8f7"/><circle cx="417.8" cy="150.2" r="3.00" fill="#1ef7e1"/><circle cx="417.2" cy="161.3" r="3.00" fill="#1ff7e0"/><circle cx="428.9" cy="125.4" r="3.00" fill="#83f77c"/><circle cx="428.9" cy="168.1" r="3.00" fill="#08bbf7"/><circle cx="415.9" cy="146.8" r="3.00" fill="#22f7dd"/><circle cx="406.0" cy="135.7" r="3.00" fill="#1af7e5"/><circle cx="413.6" cy="121.6" r="3.00" fill="#5cf7a3"/><circle cx="391.6" cy="103.2" r="3.00" fill="#39f7c6"/><circle cx="428.9" cy="117.6" r="3.00" fill="#35f7ca"/><circle cx="391.3" cy="99.9" r="3.00" fill="#36f7c9"/><circle cx="417.7" cy="136.4" r="3.00" fill="#20f7df"/><circle cx="393.4" cy="103.5" r="3.00" fill="#37f7c8"/><circle cx="428.9" cy="132.2" r="3.00" fill="#54f7ab"/><circle cx="422.6" cy="107.1" r="3.00" fill="#08ebf7"/><circle cx="399.9" cy="107.0" r="3.00" fill="#34f7cb"/><circle cx="413.7" cy="136.0" r="3.00" fill="#25f7da"/><circle cx="396.3" cy="99.9" r="3.00" fill="#39f7c6"/><circle cx="411.1" cy="139.9" r="3.00" fill="#16f7e9"/><circle cx="390.0" cy="99.7" r="3.00" fill="#32f7cd"/><circle cx="417.6" cy="128.6" r="3.00" fill="#42f7bd"/><circle cx="407.2" cy="103.6" r="3.00" fill="#08e4f7"/><circle cx="428.9" cy="175.5" r="3.00" fill="#088ef7"/><circle cx="413.3" cy="107.3" r="3.00" fill="#08dcf7"/><circle cx="426.7" cy="157.5" r="3.00" fill="#17f7e8"/></g>
<use href="#m" transform="translate(196.50,96.50) scale(1.0000)"/>
<text x="146.6" y="112.9" font-size="12.20" font-weight="bold" fill="#262626" text-anchor="start" textLength="16.4" lengthAdjust="spacingAndGlyphs" stroke="#262626" stroke-width="0.28">48</text>
<circle cx="167.9" cy="99.9" r="1.45" fill="none" stroke="#262626" stroke-width="0.9"/>
<text x="175.6" y="112.9" font-size="12.20" font-weight="bold" fill="#262626" text-anchor="start" textLength="9.3" lengthAdjust="spacingAndGlyphs" stroke="#262626" stroke-width="0.28">N</text>
<text x="146.6" y="130.4" font-size="12.20" font-weight="bold" fill="#262626" text-anchor="start" textLength="16.4" lengthAdjust="spacingAndGlyphs" stroke="#262626" stroke-width="0.28">46</text>
<circle cx="167.9" cy="117.4" r="1.45" fill="none" stroke="#262626" stroke-width="0.9"/>
<text x="175.6" y="130.4" font-size="12.20" font-weight="bold" fill="#262626" text-anchor="start" textLength="9.3" lengthAdjust="spacingAndGlyphs" stroke="#262626" stroke-width="0.28">N</text>
<text x="146.6" y="147.8" font-size="12.20" font-weight="bold" fill="#262626" text-anchor="start" textLength="16.4" lengthAdjust="spacingAndGlyphs" stroke="#262626" stroke-width="0.28">44</text>
<circle cx="167.9" cy="134.8" r="1.45" fill="none" stroke="#262626" stroke-width="0.9"/>
<text x="175.6" y="147.8" font-size="12.20" font-weight="bold" fill="#262626" text-anchor="start" textLength="9.3" lengthAdjust="spacingAndGlyphs" stroke="#262626" stroke-width="0.28">N</text>
<text x="146.6" y="166.9" font-size="12.20" font-weight="bold" fill="#262626" text-anchor="start" textLength="16.4" lengthAdjust="spacingAndGlyphs" stroke="#262626" stroke-width="0.28">42</text>
<circle cx="167.9" cy="153.9" r="1.45" fill="none" stroke="#262626" stroke-width="0.9"/>
<text x="175.6" y="166.9" font-size="12.20" font-weight="bold" fill="#262626" text-anchor="start" textLength="9.3" lengthAdjust="spacingAndGlyphs" stroke="#262626" stroke-width="0.28">N</text>
<text x="146.6" y="182.7" font-size="12.20" font-weight="bold" fill="#262626" text-anchor="start" textLength="16.4" lengthAdjust="spacingAndGlyphs" stroke="#262626" stroke-width="0.28">40</text>
<circle cx="167.9" cy="169.7" r="1.45" fill="none" stroke="#262626" stroke-width="0.9"/>
<text x="175.6" y="182.7" font-size="12.20" font-weight="bold" fill="#262626" text-anchor="start" textLength="9.3" lengthAdjust="spacingAndGlyphs" stroke="#262626" stroke-width="0.28">N</text>
<text x="146.6" y="198.0" font-size="12.20" font-weight="bold" fill="#262626" text-anchor="start" textLength="16.4" lengthAdjust="spacingAndGlyphs" stroke="#262626" stroke-width="0.28">38</text>
<circle cx="167.9" cy="185.0" r="1.45" fill="none" stroke="#262626" stroke-width="0.9"/>
<text x="175.6" y="198.0" font-size="12.20" font-weight="bold" fill="#262626" text-anchor="start" textLength="9.3" lengthAdjust="spacingAndGlyphs" stroke="#262626" stroke-width="0.28">N</text>
<text x="146.6" y="214.5" font-size="12.20" font-weight="bold" fill="#262626" text-anchor="start" textLength="16.4" lengthAdjust="spacingAndGlyphs" stroke="#262626" stroke-width="0.28">36</text>
<circle cx="167.9" cy="201.5" r="1.45" fill="none" stroke="#262626" stroke-width="0.9"/>
<text x="175.6" y="214.5" font-size="12.20" font-weight="bold" fill="#262626" text-anchor="start" textLength="9.3" lengthAdjust="spacingAndGlyphs" stroke="#262626" stroke-width="0.28">N</text>
<text x="146.6" y="228.8" font-size="12.20" font-weight="bold" fill="#262626" text-anchor="start" textLength="16.4" lengthAdjust="spacingAndGlyphs" stroke="#262626" stroke-width="0.28">34</text>
<circle cx="167.9" cy="215.8" r="1.45" fill="none" stroke="#262626" stroke-width="0.9"/>
<text x="175.6" y="228.8" font-size="12.20" font-weight="bold" fill="#262626" text-anchor="start" textLength="9.3" lengthAdjust="spacingAndGlyphs" stroke="#262626" stroke-width="0.28">N</text>
<text x="146.6" y="245.5" font-size="12.20" font-weight="bold" fill="#262626" text-anchor="start" textLength="16.4" lengthAdjust="spacingAndGlyphs" stroke="#262626" stroke-width="0.28">32</text>
<circle cx="167.9" cy="232.5" r="1.45" fill="none" stroke="#262626" stroke-width="0.9"/>
<text x="175.6" y="245.5" font-size="12.20" font-weight="bold" fill="#262626" text-anchor="start" textLength="9.3" lengthAdjust="spacingAndGlyphs" stroke="#262626" stroke-width="0.28">N</text>
<text x="146.6" y="259.6" font-size="12.20" font-weight="bold" fill="#262626" text-anchor="start" textLength="16.4" lengthAdjust="spacingAndGlyphs" stroke="#262626" stroke-width="0.28">30</text>
<circle cx="167.9" cy="246.6" r="1.45" fill="none" stroke="#262626" stroke-width="0.9"/>
<text x="175.6" y="259.6" font-size="12.20" font-weight="bold" fill="#262626" text-anchor="start" textLength="9.3" lengthAdjust="spacingAndGlyphs" stroke="#262626" stroke-width="0.28">N</text>
<text x="146.6" y="272.7" font-size="12.20" font-weight="bold" fill="#262626" text-anchor="start" textLength="16.4" lengthAdjust="spacingAndGlyphs" stroke="#262626" stroke-width="0.28">28</text>
<circle cx="167.9" cy="259.7" r="1.45" fill="none" stroke="#262626" stroke-width="0.9"/>
<text x="175.6" y="272.7" font-size="12.20" font-weight="bold" fill="#262626" text-anchor="start" textLength="9.3" lengthAdjust="spacingAndGlyphs" stroke="#262626" stroke-width="0.28">N</text>
<text x="146.6" y="287.7" font-size="12.20" font-weight="bold" fill="#262626" text-anchor="start" textLength="16.4" lengthAdjust="spacingAndGlyphs" stroke="#262626" stroke-width="0.28">26</text>
<circle cx="167.9" cy="274.7" r="1.45" fill="none" stroke="#262626" stroke-width="0.9"/>
<text x="175.6" y="287.7" font-size="12.20" font-weight="bold" fill="#262626" text-anchor="start" textLength="9.3" lengthAdjust="spacingAndGlyphs" stroke="#262626" stroke-width="0.28">N</text>
<text x="146.6" y="301.8" font-size="12.20" font-weight="bold" fill="#262626" text-anchor="start" textLength="16.4" lengthAdjust="spacingAndGlyphs" stroke="#262626" stroke-width="0.28">24</text>
<circle cx="167.9" cy="288.8" r="1.45" fill="none" stroke="#262626" stroke-width="0.9"/>
<text x="175.6" y="301.8" font-size="12.20" font-weight="bold" fill="#262626" text-anchor="start" textLength="9.3" lengthAdjust="spacingAndGlyphs" stroke="#262626" stroke-width="0.28">N</text>
<text x="146.6" y="314.6" font-size="12.20" font-weight="bold" fill="#262626" text-anchor="start" textLength="16.4" lengthAdjust="spacingAndGlyphs" stroke="#262626" stroke-width="0.28">22</text>
<circle cx="167.9" cy="301.6" r="1.45" fill="none" stroke="#262626" stroke-width="0.9"/>
<text x="175.6" y="314.6" font-size="12.20" font-weight="bold" fill="#262626" text-anchor="start" textLength="9.3" lengthAdjust="spacingAndGlyphs" stroke="#262626" stroke-width="0.28">N</text>
<text x="215.7" y="76.7" font-size="12.20" font-weight="bold" fill="#262626" text-anchor="start" textLength="24.5" lengthAdjust="spacingAndGlyphs" stroke="#262626" stroke-width="0.28">100</text>
<circle cx="245.2" cy="64.1" r="1.45" fill="none" stroke="#262626" stroke-width="0.9"/>
<text x="252.7" y="76.7" font-size="12.20" font-weight="bold" fill="#262626" text-anchor="start" textLength="13.3" lengthAdjust="spacingAndGlyphs" stroke="#262626" stroke-width="0.28">W</text>
<text x="284.4" y="76.7" font-size="12.20" font-weight="bold" fill="#262626" text-anchor="start" textLength="16.3" lengthAdjust="spacingAndGlyphs" stroke="#262626" stroke-width="0.28">90</text>
<circle cx="304.7" cy="64.1" r="1.45" fill="none" stroke="#262626" stroke-width="0.9"/>
<text x="313.7" y="76.7" font-size="12.20" font-weight="bold" fill="#262626" text-anchor="start" textLength="13.1" lengthAdjust="spacingAndGlyphs" stroke="#262626" stroke-width="0.28">W</text>
<text x="348.5" y="76.7" font-size="12.20" font-weight="bold" fill="#262626" text-anchor="start" textLength="16.8" lengthAdjust="spacingAndGlyphs" stroke="#262626" stroke-width="0.28">80</text>
<circle cx="369.6" cy="64.1" r="1.45" fill="none" stroke="#262626" stroke-width="0.9"/>
<text x="377.8" y="76.7" font-size="12.20" font-weight="bold" fill="#262626" text-anchor="start" textLength="13.2" lengthAdjust="spacingAndGlyphs" stroke="#262626" stroke-width="0.28">W</text>
<text x="412.1" y="76.7" font-size="12.20" font-weight="bold" fill="#262626" text-anchor="start" textLength="15.6" lengthAdjust="spacingAndGlyphs" stroke="#262626" stroke-width="0.28">70</text>
<circle cx="431.7" cy="64.1" r="1.45" fill="none" stroke="#262626" stroke-width="0.9"/>
<text x="440.7" y="76.7" font-size="12.20" font-weight="bold" fill="#262626" text-anchor="start" textLength="13.3" lengthAdjust="spacingAndGlyphs" stroke="#262626" stroke-width="0.28">W</text>
<rect x="441.5" y="95.5" width="23.1" height="214.8" fill="url(#jet)" stroke="#1a1a1a" stroke-width="0.7"/>
<path d="M464.4 114.2h-2.6" stroke="#1a1a1a" stroke-width="0.8"/>
<text x="474.1" y="121.5" font-size="21.00" font-weight="bold" fill="#262626" text-anchor="start" textLength="35.9" lengthAdjust="spacingAndGlyphs" stroke="#262626" stroke-width="0.50">-10</text>
<path d="M464.4 189.0h-2.6" stroke="#1a1a1a" stroke-width="0.8"/>
<text x="474.1" y="196.3" font-size="21.00" font-weight="bold" fill="#262626" text-anchor="start" textLength="35.9" lengthAdjust="spacingAndGlyphs" stroke="#262626" stroke-width="0.50">-20</text>
<path d="M464.4 263.9h-2.6" stroke="#1a1a1a" stroke-width="0.8"/>
<text x="474.1" y="271.2" font-size="21.00" font-weight="bold" fill="#262626" text-anchor="start" textLength="35.9" lengthAdjust="spacingAndGlyphs" stroke="#262626" stroke-width="0.50">-30</text>
<text x="105.0" y="341.0" font-size="22.80" font-weight="bold" fill="#262626" text-anchor="start" textLength="119.5" lengthAdjust="spacingAndGlyphs" stroke="#262626" stroke-width="0.50">SAT+RAP</text>
<text x="232.5" y="341.0" font-size="22.80" font-weight="bold" fill="#262626" text-anchor="start" textLength="115.9" lengthAdjust="spacingAndGlyphs" stroke="#262626" stroke-width="0.50">Negative</text>
<text x="356.4" y="341.0" font-size="22.80" font-weight="bold" fill="#262626" text-anchor="start" textLength="75.3" lengthAdjust="spacingAndGlyphs" stroke="#262626" stroke-width="0.50">Lifted</text>
<text x="439.7" y="341.0" font-size="22.80" font-weight="bold" fill="#262626" text-anchor="start" textLength="71.6" lengthAdjust="spacingAndGlyphs" stroke="#262626" stroke-width="0.50">Index</text>
<rect x="617.5" y="96.5" width="233.0" height="213.0" fill="#fff" stroke="#262626" stroke-width="1"/>
<g><circle cx="845.9" cy="132.2" r="3.00" fill="#080880"/><circle cx="828.1" cy="125.4" r="3.00" fill="#080880"/><circle cx="838.8" cy="99.9" r="3.00" fill="#080880"/><circle cx="832.6" cy="110.6" r="3.00" fill="#080880"/><circle cx="823.8" cy="125.4" r="3.00" fill="#080880"/><circle cx="819.2" cy="110.9" r="3.00" fill="#080880"/><circle cx="819.3" cy="103.8" r="3.00" fill="#080880"/><circle cx="845.9" cy="96.4" r="3.00" fill="#080880"/><circle cx="828.6" cy="139.7" r="3.00" fill="#080880"/><circle cx="849.9" cy="118.3" r="3.00" fill="#080880"/><circle cx="823.7" cy="96.4" r="3.00" fill="#080880"/><circle cx="817.4" cy="114.2" r="3.00" fill="#080880"/><circle cx="847.7" cy="150.0" r="3.00" fill="#080880"/><circle cx="831.8" cy="146.6" r="3.00" fill="#080880"/><circle cx="817.0" cy="107.5" r="3.00" fill="#080880"/><circle cx="829.9" cy="136.1" r="3.00" fill="#080880"/><circle cx="830.5" cy="100.0" r="3.00" fill="#080880"/><circle cx="839.2" cy="136.4" r="3.00" fill="#080880"/><circle cx="823.7" cy="103.9" r="3.00" fill="#080880"/><circle cx="830.2" cy="143.4" r="3.00" fill="#080880"/><circle cx="821.4" cy="114.2" r="3.00" fill="#080880"/><circle cx="847.7" cy="164.6" r="3.00" fill="#080880"/><circle cx="849.9" cy="110.8" r="3.00" fill="#080880"/><circle cx="832.2" cy="118.2" r="3.00" fill="#080880"/><circle cx="837.0" cy="110.6" r="3.00" fill="#080880"/><circle cx="822.2" cy="125.6" r="3.00" fill="#080880"/><circle cx="830.4" cy="128.5" r="3.00" fill="#080880"/><circle cx="834.2" cy="128.8" r="3.00" fill="#080880"/><circle cx="823.2" cy="118.1" r="3.00" fill="#080880"/><circle cx="836.6" cy="157.2" r="3.00" fill="#080880"/><circle cx="834.8" cy="114.6" r="3.00" fill="#080880"/><circle cx="849.9" cy="96.4" r="3.00" fill="#080880"/><circle cx="846.2" cy="178.9" r="3.00" fill="#080880"/><circle cx="847.7" cy="172.0" r="3.00" fill="#080880"/><circle cx="838.6" cy="150.1" r="3.00" fill="#080880"/><circle cx="840.9" cy="161.3" r="3.00" fill="#080880"/><circle cx="847.7" cy="136.1" r="3.00" fill="#080880"/><circle cx="833.4" cy="150.5" r="3.00" fill="#080880"/><circle cx="809.4" cy="96.4" r="3.00" fill="#080880"/><circle cx="836.7" cy="104.0" r="3.00" fill="#080880"/><circle cx="845.2" cy="118.0" r="3.00" fill="#080880"/><circle cx="843.3" cy="128.6" r="3.00" fill="#080880"/><circle cx="815.8" cy="111.0" r="3.00" fill="#080880"/><circle cx="834.5" cy="107.5" r="3.00" fill="#080880"/><circle cx="827.5" cy="132.1" r="3.00" fill="#080880"/><circle cx="832.0" cy="96.4" r="3.00" fill="#080880"/><circle cx="847.7" cy="129.0" r="3.00" fill="#080880"/><circle cx="841.5" cy="147.0" r="3.00" fill="#080880"/><circle cx="838.2" cy="160.8" r="3.00" fill="#080880"/><circle cx="830.1" cy="107.5" r="3.00" fill="#080880"/><circle cx="820.6" cy="121.3" r="3.00" fill="#080880"/><circle cx="836.5" cy="118.3" r="3.00" fill="#080880"/><circle cx="845.3" cy="110.7" r="3.00" fill="#080880"/><circle cx="845.3" cy="168.5" r="3.00" fill="#080880"/><circle cx="847.7" cy="178.9" r="3.00" fill="#080880"/><circle cx="823.5" cy="110.8" r="3.00" fill="#080880"/><circle cx="845.5" cy="154.3" r="3.00" fill="#080880"/><circle cx="834.3" cy="136.0" r="3.00" fill="#080880"/><circle cx="832.4" cy="103.3" r="3.00" fill="#080880"/><circle cx="820.9" cy="99.6" r="3.00" fill="#080880"/><circle cx="849.9" cy="124.9" r="3.00" fill="#080880"/><circle cx="823.8" cy="129.1" r="3.00" fill="#080880"/><circle cx="839.8" cy="164.5" r="3.00" fill="#080880"/><circle cx="843.3" cy="114.7" r="3.00" fill="#080880"/><circle cx="841.0" cy="103.3" r="3.00" fill="#080880"/><circle cx="843.2" cy="165.1" r="3.00" fill="#080880"/><circle cx="841.5" cy="96.4" r="3.00" fill="#080880"/><circle cx="849.9" cy="168.6" r="3.00" fill="#080880"/><circle cx="845.3" cy="147.1" r="3.00" fill="#080880"/><circle cx="847.7" cy="143.0" r="3.00" fill="#080880"/><circle cx="834.5" cy="143.2" r="3.00" fill="#080880"/><circle cx="839.0" cy="114.1" r="3.00" fill="#080880"/><circle cx="814.2" cy="107.6" r="3.00" fill="#080880"/><circle cx="841.4" cy="117.8" r="3.00" fill="#080880"/><circle cx="849.9" cy="161.2" r="3.00" fill="#080880"/><circle cx="849.9" cy="103.6" r="3.00" fill="#080880"/><circle cx="843.5" cy="107.4" r="3.00" fill="#080880"/><circle cx="847.7" cy="122.0" r="3.00" fill="#080880"/><circle cx="847.7" cy="106.9" r="3.00" fill="#080880"/><circle cx="842.9" cy="121.8" r="3.00" fill="#080880"/><circle cx="836.6" cy="146.8" r="3.00" fill="#080880"/><circle cx="849.9" cy="146.9" r="3.00" fill="#080880"/><circle cx="849.9" cy="175.5" r="3.00" fill="#080880"/><circle cx="845.4" cy="161.2" r="3.00" fill="#080880"/><circle cx="812.4" cy="100.3" r="3.00" fill="#080880"/><circle cx="834.7" cy="100.4" r="3.00" fill="#080880"/><circle cx="841.4" cy="168.1" r="3.00" fill="#080880"/><circle cx="838.5" cy="121.4" r="3.00" fill="#080880"/><circle cx="838.7" cy="143.0" r="3.00" fill="#080880"/><circle cx="819.0" cy="117.8" r="3.00" fill="#080880"/><circle cx="841.3" cy="110.5" r="3.00" fill="#080880"/><circle cx="849.9" cy="183.1" r="3.00" fill="#080880"/><circle cx="825.8" cy="128.7" r="3.00" fill="#080880"/><circle cx="836.3" cy="132.4" r="3.00" fill="#080880"/><circle cx="843.0" cy="157.4" r="3.00" fill="#080880"/><circle cx="847.7" cy="114.2" r="3.00" fill="#080880"/><circle cx="821.6" cy="107.2" r="3.00" fill="#080880"/><circle cx="825.7" cy="99.8" r="3.00" fill="#080880"/><circle cx="836.3" cy="96.4" r="3.00" fill="#080880"/><circle cx="839.0" cy="128.7" r="3.00" fill="#080880"/><circle cx="849.9" cy="132.1" r="3.00" fill="#080880"/><circle cx="844.6" cy="175.8" r="3.00" fill="#080880"/><circle cx="841.0" cy="139.6" r="3.00" fill="#080880"/><circle cx="819.2" cy="96.4" r="3.00" fill="#080880"/><circle cx="830.4" cy="114.2" r="3.00" fill="#080880"/><circle cx="836.3" cy="139.2" r="3.00" fill="#080880"/><circle cx="816.9" cy="99.9" r="3.00" fill="#080880"/><circle cx="829.8" cy="121.8" r="3.00" fill="#080880"/><circle cx="845.3" cy="103.2" r="3.00" fill="#080880"/><circle cx="828.3" cy="111.0" r="3.00" fill="#080880"/><circle cx="814.5" cy="96.4" r="3.00" fill="#080880"/><circle cx="843.4" cy="99.7" r="3.00" fill="#080880"/><circle cx="845.1" cy="125.1" r="3.00" fill="#080880"/><circle cx="832.2" cy="139.3" r="3.00" fill="#080880"/><circle cx="827.0" cy="135.7" r="3.00" fill="#080880"/><circle cx="843.0" cy="171.9" r="3.00" fill="#080880"/><circle cx="811.0" cy="100.1" r="3.00" fill="#080880"/><circle cx="835.0" cy="154.2" r="3.00" fill="#080880"/><circle cx="825.4" cy="132.4" r="3.00" fill="#080880"/><circle cx="841.2" cy="132.3" r="3.00" fill="#080880"/><circle cx="847.8" cy="182.5" r="3.00" fill="#080880"/><circle cx="825.6" cy="121.2" r="3.00" fill="#080880"/><circle cx="838.9" cy="107.2" r="3.00" fill="#080880"/><circle cx="831.9" cy="125.2" r="3.00" fill="#080880"/><circle cx="827.5" cy="117.9" r="3.00" fill="#080880"/><circle cx="812.6" cy="103.6" r="3.00" fill="#080880"/><circle cx="814.6" cy="104.0" r="3.00" fill="#080880"/><circle cx="845.7" cy="139.4" r="3.00" fill="#080880"/><circle cx="836.4" cy="125.1" r="3.00" fill="#080880"/><circle cx="847.7" cy="157.7" r="3.00" fill="#080880"/><circle cx="843.0" cy="142.9" r="3.00" fill="#080880"/><circle cx="841.2" cy="153.8" r="3.00" fill="#080880"/><circle cx="837.1" cy="153.9" r="3.00" fill="#080880"/><circle cx="834.8" cy="121.3" r="3.00" fill="#080880"/><circle cx="843.3" cy="136.4" r="3.00" fill="#080880"/><circle cx="825.6" cy="107.5" r="3.00" fill="#080880"/><circle cx="843.2" cy="150.4" r="3.00" fill="#080880"/><circle cx="832.0" cy="132.0" r="3.00" fill="#080880"/><circle cx="841.2" cy="125.4" r="3.00" fill="#080880"/><circle cx="839.2" cy="157.7" r="3.00" fill="#080880"/><circle cx="847.7" cy="100.1" r="3.00" fill="#080880"/><circle cx="849.9" cy="153.9" r="3.00" fill="#080880"/><circle cx="828.2" cy="96.4" r="3.00" fill="#080880"/><circle cx="828.2" cy="103.8" r="3.00" fill="#080880"/><circle cx="825.9" cy="114.0" r="3.00" fill="#080880"/><circle cx="849.9" cy="139.8" r="3.00" fill="#080880"/></g>
<use href="#m" transform="translate(617.50,96.50) scale(1.0000)"/>
<text x="567.6" y="112.9" font-size="12.20" font-weight="bold" fill="#262626" text-anchor="start" textLength="16.4" lengthAdjust="spacingAndGlyphs" stroke="#262626" stroke-width="0.28">48</text>
<circle cx="588.9" cy="99.9" r="1.45" fill="none" stroke="#262626" stroke-width="0.9"/>
<text x="596.6" y="112.9" font-size="12.20" font-weight="bold" fill="#262626" text-anchor="start" textLength="9.3" lengthAdjust="spacingAndGlyphs" stroke="#262626" stroke-width="0.28">N</text>
<text x="567.6" y="130.4" font-size="12.20" font-weight="bold" fill="#262626" text-anchor="start" textLength="16.4" lengthAdjust="spacingAndGlyphs" stroke="#262626" stroke-width="0.28">46</text>
<circle cx="588.9" cy="117.4" r="1.45" fill="none" stroke="#262626" stroke-width="0.9"/>
<text x="596.6" y="130.4" font-size="12.20" font-weight="bold" fill="#262626" text-anchor="start" textLength="9.3" lengthAdjust="spacingAndGlyphs" stroke="#262626" stroke-width="0.28">N</text>
<text x="567.6" y="147.8" font-size="12.20" font-weight="bold" fill="#262626" text-anchor="start" textLength="16.4" lengthAdjust="spacingAndGlyphs" stroke="#262626" stroke-width="0.28">44</text>
<circle cx="588.9" cy="134.8" r="1.45" fill="none" stroke="#262626" stroke-width="0.9"/>
<text x="596.6" y="147.8" font-size="12.20" font-weight="bold" fill="#262626" text-anchor="start" textLength="9.3" lengthAdjust="spacingAndGlyphs" stroke="#262626" stroke-width="0.28">N</text>
<text x="567.6" y="166.9" font-size="12.20" font-weight="bold" fill="#262626" text-anchor="start" textLength="16.4" lengthAdjust="spacingAndGlyphs" stroke="#262626" stroke-width="0.28">42</text>
<circle cx="588.9" cy="153.9" r="1.45" fill="none" stroke="#262626" stroke-width="0.9"/>
<text x="596.6" y="166.9" font-size="12.20" font-weight="bold" fill="#262626" text-anchor="start" textLength="9.3" lengthAdjust="spacingAndGlyphs" stroke="#262626" stroke-width="0.28">N</text>
<text x="567.6" y="182.7" font-size="12.20" font-weight="bold" fill="#262626" text-anchor="start" textLength="16.4" lengthAdjust="spacingAndGlyphs" stroke="#262626" stroke-width="0.28">40</text>
<circle cx="588.9" cy="169.7" r="1.45" fill="none" stroke="#262626" stroke-width="0.9"/>
<text x="596.6" y="182.7" font-size="12.20" font-weight="bold" fill="#262626" text-anchor="start" textLength="9.3" lengthAdjust="spacingAndGlyphs" stroke="#262626" stroke-width="0.28">N</text>
<text x="567.6" y="198.0" font-size="12.20" font-weight="bold" fill="#262626" text-anchor="start" textLength="16.4" lengthAdjust="spacingAndGlyphs" stroke="#262626" stroke-width="0.28">38</text>
<circle cx="588.9" cy="185.0" r="1.45" fill="none" stroke="#262626" stroke-width="0.9"/>
<text x="596.6" y="198.0" font-size="12.20" font-weight="bold" fill="#262626" text-anchor="start" textLength="9.3" lengthAdjust="spacingAndGlyphs" stroke="#262626" stroke-width="0.28">N</text>
<text x="567.6" y="214.5" font-size="12.20" font-weight="bold" fill="#262626" text-anchor="start" textLength="16.4" lengthAdjust="spacingAndGlyphs" stroke="#262626" stroke-width="0.28">36</text>
<circle cx="588.9" cy="201.5" r="1.45" fill="none" stroke="#262626" stroke-width="0.9"/>
<text x="596.6" y="214.5" font-size="12.20" font-weight="bold" fill="#262626" text-anchor="start" textLength="9.3" lengthAdjust="spacingAndGlyphs" stroke="#262626" stroke-width="0.28">N</text>
<text x="567.6" y="228.8" font-size="12.20" font-weight="bold" fill="#262626" text-anchor="start" textLength="16.4" lengthAdjust="spacingAndGlyphs" stroke="#262626" stroke-width="0.28">34</text>
<circle cx="588.9" cy="215.8" r="1.45" fill="none" stroke="#262626" stroke-width="0.9"/>
<text x="596.6" y="228.8" font-size="12.20" font-weight="bold" fill="#262626" text-anchor="start" textLength="9.3" lengthAdjust="spacingAndGlyphs" stroke="#262626" stroke-width="0.28">N</text>
<text x="567.6" y="245.5" font-size="12.20" font-weight="bold" fill="#262626" text-anchor="start" textLength="16.4" lengthAdjust="spacingAndGlyphs" stroke="#262626" stroke-width="0.28">32</text>
<circle cx="588.9" cy="232.5" r="1.45" fill="none" stroke="#262626" stroke-width="0.9"/>
<text x="596.6" y="245.5" font-size="12.20" font-weight="bold" fill="#262626" text-anchor="start" textLength="9.3" lengthAdjust="spacingAndGlyphs" stroke="#262626" stroke-width="0.28">N</text>
<text x="567.6" y="259.6" font-size="12.20" font-weight="bold" fill="#262626" text-anchor="start" textLength="16.4" lengthAdjust="spacingAndGlyphs" stroke="#262626" stroke-width="0.28">30</text>
<circle cx="588.9" cy="246.6" r="1.45" fill="none" stroke="#262626" stroke-width="0.9"/>
<text x="596.6" y="259.6" font-size="12.20" font-weight="bold" fill="#262626" text-anchor="start" textLength="9.3" lengthAdjust="spacingAndGlyphs" stroke="#262626" stroke-width="0.28">N</text>
<text x="567.6" y="272.7" font-size="12.20" font-weight="bold" fill="#262626" text-anchor="start" textLength="16.4" lengthAdjust="spacingAndGlyphs" stroke="#262626" stroke-width="0.28">28</text>
<circle cx="588.9" cy="259.7" r="1.45" fill="none" stroke="#262626" stroke-width="0.9"/>
<text x="596.6" y="272.7" font-size="12.20" font-weight="bold" fill="#262626" text-anchor="start" textLength="9.3" lengthAdjust="spacingAndGlyphs" stroke="#262626" stroke-width="0.28">N</text>
<text x="567.6" y="287.7" font-size="12.20" font-weight="bold" fill="#262626" text-anchor="start" textLength="16.4" lengthAdjust="spacingAndGlyphs" stroke="#262626" stroke-width="0.28">26</text>
<circle cx="588.9" cy="274.7" r="1.45" fill="none" stroke="#262626" stroke-width="0.9"/>
<text x="596.6" y="287.7" font-size="12.20" font-weight="bold" fill="#262626" text-anchor="start" textLength="9.3" lengthAdjust="spacingAndGlyphs" stroke="#262626" stroke-width="0.28">N</text>
<text x="567.6" y="301.8" font-size="12.20" font-weight="bold" fill="#262626" text-anchor="start" textLength="16.4" lengthAdjust="spacingAndGlyphs" stroke="#262626" stroke-width="0.28">24</text>
<circle cx="588.9" cy="288.8" r="1.45" fill="none" stroke="#262626" stroke-width="0.9"/>
<text x="596.6" y="301.8" font-size="12.20" font-weight="bold" fill="#262626" text-anchor="start" textLength="9.3" lengthAdjust="spacingAndGlyphs" stroke="#262626" stroke-width="0.28">N</text>
<text x="567.6" y="314.6" font-size="12.20" font-weight="bold" fill="#262626" text-anchor="start" textLength="16.4" lengthAdjust="spacingAndGlyphs" stroke="#262626" stroke-width="0.28">22</text>
<circle cx="588.9" cy="301.6" r="1.45" fill="none" stroke="#262626" stroke-width="0.9"/>
<text x="596.6" y="314.6" font-size="12.20" font-weight="bold" fill="#262626" text-anchor="start" textLength="9.3" lengthAdjust="spacingAndGlyphs" stroke="#262626" stroke-width="0.28">N</text>
<text x="636.7" y="76.7" font-size="12.20" font-weight="bold" fill="#262626" text-anchor="start" textLength="24.5" lengthAdjust="spacingAndGlyphs" stroke="#262626" stroke-width="0.28">100</text>
<circle cx="666.2" cy="64.1" r="1.45" fill="none" stroke="#262626" stroke-width="0.9"/>
<text x="673.7" y="76.7" font-size="12.20" font-weight="bold" fill="#262626" text-anchor="start" textLength="13.3" lengthAdjust="spacingAndGlyphs" stroke="#262626" stroke-width="0.28">W</text>
<text x="705.4" y="76.7" font-size="12.20" font-weight="bold" fill="#262626" text-anchor="start" textLength="16.3" lengthAdjust="spacingAndGlyphs" stroke="#262626" stroke-width="0.28">90</text>
<circle cx="725.7" cy="64.1" r="1.45" fill="none" stroke="#262626" stroke-width="0.9"/>
<text x="734.7" y="76.7" font-size="12.20" font-weight="bold" fill="#262626" text-anchor="start" textLength="13.1" lengthAdjust="spacingAndGlyphs" stroke="#262626" stroke-width="0.28">W</text>
<text x="769.5" y="76.7" font-size="12.20" font-weight="bold" fill="#262626" text-anchor="start" textLength="16.8" lengthAdjust="spacingAndGlyphs" stroke="#262626" stroke-width="0.28">80</text>
<circle cx="790.6" cy="64.1" r="1.45" fill="none" stroke="#262626" stroke-width="0.9"/>
<text x="798.8" y="76.7" font-size="12.20" font-weight="bold" fill="#262626" text-anchor="start" textLength="13.2" lengthAdjust="spacingAndGlyphs" stroke="#262626" stroke-width="0.28">W</text>
<text x="833.1" y="76.7" font-size="12.20" font-weight="bold" fill="#262626" text-anchor="start" textLength="15.6" lengthAdjust="spacingAndGlyphs" stroke="#262626" stroke-width="0.28">70</text>
<circle cx="852.7" cy="64.1" r="1.45" fill="none" stroke="#262626" stroke-width="0.9"/>
<text x="861.7" y="76.7" font-size="12.20" font-weight="bold" fill="#262626" text-anchor="start" textLength="13.3" lengthAdjust="spacingAndGlyphs" stroke="#262626" stroke-width="0.28">W</text>
<rect x="862.4" y="93.5" width="23.2" height="218.8" fill="url(#jet)" stroke="#1a1a1a" stroke-width="0.7"/>
<path d="M885.4 130.5h-2.6" stroke="#1a1a1a" stroke-width="0.8"/>
<text x="895.3" y="137.8" font-size="21.00" font-weight="bold" fill="#262626" text-anchor="start" textLength="27.6" lengthAdjust="spacingAndGlyphs" stroke="#262626" stroke-width="0.50">10</text>
<path d="M885.4 221.7h-2.6" stroke="#1a1a1a" stroke-width="0.8"/>
<text x="895.3" y="229.0" font-size="21.00" font-weight="bold" fill="#262626" text-anchor="start" textLength="13.8" lengthAdjust="spacingAndGlyphs" stroke="#262626" stroke-width="0.50">5</text>
<text x="895.3" y="319.7" font-size="21.00" font-weight="bold" fill="#262626" text-anchor="start" textLength="13.8" lengthAdjust="spacingAndGlyphs" stroke="#262626" stroke-width="0.50">0</text>
<text x="631.0" y="340.8" font-size="22.80" font-weight="bold" fill="#262626" text-anchor="start" textLength="119.6" lengthAdjust="spacingAndGlyphs" stroke="#262626" stroke-width="0.50">SAT+RAP</text>
<text x="758.6" y="340.8" font-size="22.80" font-weight="bold" fill="#262626" text-anchor="start" textLength="67.1" lengthAdjust="spacingAndGlyphs" stroke="#262626" stroke-width="0.50">CAPE</text>
<rect x="1037.5" y="95.5" width="235.0" height="214.8" fill="#fff" stroke="#262626" stroke-width="1"/>
<g><circle cx="1234.0" cy="97.5" r="3.03" fill="#68f797"/><circle cx="1238.0" cy="96.5" r="3.03" fill="#68f797"/><circle cx="1241.0" cy="98.5" r="3.03" fill="#68f797"/><circle cx="1235.5" cy="101.5" r="3.03" fill="#68f797"/><circle cx="1239.5" cy="102.0" r="3.03" fill="#68f797"/><circle cx="1242.0" cy="101.0" r="3.03" fill="#68f797"/><circle cx="1233.5" cy="99.5" r="3.03" fill="#68f797"/><circle cx="1237.5" cy="99.5" r="3.03" fill="#68f797"/><circle cx="1256.5" cy="97.5" r="3.03" fill="#68f797"/><circle cx="1260.0" cy="96.8" r="3.03" fill="#68f797"/><circle cx="1262.5" cy="99.5" r="3.03" fill="#68f797"/><circle cx="1258.0" cy="101.0" r="3.03" fill="#68f797"/><circle cx="1261.5" cy="101.8" r="3.03" fill="#68f797"/><circle cx="1256.8" cy="99.5" r="3.03" fill="#68f797"/><circle cx="1259.5" cy="99.0" r="3.03" fill="#68f797"/><circle cx="1247.0" cy="126.5" r="3.03" fill="#68f797"/><circle cx="1250.0" cy="124.5" r="3.03" fill="#68f797"/><circle cx="1253.0" cy="123.0" r="3.03" fill="#68f797"/><circle cx="1256.0" cy="121.5" r="3.03" fill="#68f797"/><circle cx="1259.0" cy="121.0" r="3.03" fill="#68f797"/><circle cx="1262.0" cy="120.5" r="3.03" fill="#68f797"/><circle cx="1265.0" cy="119.5" r="3.03" fill="#68f797"/><circle cx="1266.5" cy="122.0" r="3.03" fill="#68f797"/><circle cx="1249.5" cy="127.5" r="3.03" fill="#68f797"/><circle cx="1253.0" cy="126.5" r="3.03" fill="#68f797"/><circle cx="1256.5" cy="125.0" r="3.03" fill="#68f797"/><circle cx="1260.0" cy="124.0" r="3.03" fill="#68f797"/><circle cx="1263.5" cy="123.0" r="3.03" fill="#68f797"/><circle cx="1258.0" cy="127.5" r="3.03" fill="#68f797"/><circle cx="1262.0" cy="126.5" r="3.03" fill="#68f797"/><circle cx="1254.5" cy="128.8" r="3.03" fill="#68f797"/><circle cx="1266.0" cy="125.0" r="3.03" fill="#68f797"/><circle cx="1272.5" cy="102.8" r="3.03" fill="#0871f7"/><circle cx="1271.0" cy="105.5" r="3.03" fill="#0871f7"/><circle cx="1272.8" cy="108.0" r="3.03" fill="#0871f7"/><circle cx="1269.5" cy="108.5" r="3.03" fill="#0871f7"/><circle cx="1267.8" cy="111.8" r="3.03" fill="#0871f7"/><circle cx="1271.5" cy="111.0" r="3.03" fill="#0871f7"/><circle cx="1255.0" cy="133.5" r="3.03" fill="#a8f5c4"/><circle cx="1258.0" cy="133.5" r="3.03" fill="#a8f5c4"/><circle cx="1256.0" cy="137.0" r="3.03" fill="#a8f5c4"/><circle cx="1256.8" cy="141.0" r="3.03" fill="#a8f5c4"/><circle cx="1257.5" cy="145.0" r="3.03" fill="#a8f5c4"/><circle cx="1262.0" cy="134.0" r="3.03" fill="#a8f5c4"/><circle cx="1260.0" cy="139.0" r="3.03" fill="#a8f5c4"/><circle cx="1259.0" cy="144.0" r="3.03" fill="#a8f5c4"/><circle cx="1266.0" cy="134.0" r="3.03" fill="#a8f5c4"/><circle cx="1267.0" cy="139.0" r="3.03" fill="#a8f5c4"/><circle cx="1267.5" cy="144.0" r="3.03" fill="#a8f5c4"/><circle cx="1268.0" cy="148.5" r="3.03" fill="#a8f5c4"/><circle cx="1264.0" cy="147.0" r="3.03" fill="#a8f5c4"/><circle cx="1263.0" cy="152.5" r="3.03" fill="#a8f5c4"/><circle cx="1259.0" cy="153.0" r="3.03" fill="#a8f5c4"/><circle cx="1255.5" cy="153.0" r="3.03" fill="#a8f5c4"/><circle cx="1269.3" cy="165.3" r="3.03" fill="#ff6a0e"/><circle cx="1271.8" cy="166.5" r="3.03" fill="#ff6a0e"/><circle cx="1267.0" cy="166.8" r="3.03" fill="#ff6a0e"/><circle cx="1270.0" cy="168.3" r="3.03" fill="#ff6a0e"/><circle cx="1272.5" cy="169.0" r="3.03" fill="#ff6a0e"/><circle cx="1268.5" cy="171.8" r="3.03" fill="#76f789"/><circle cx="1271.5" cy="172.8" r="3.03" fill="#76f789"/><circle cx="1269.8" cy="174.3" r="3.03" fill="#76f789"/><circle cx="1270.5" cy="177.0" r="3.03" fill="#f07a20"/><circle cx="1272.5" cy="178.3" r="3.03" fill="#f07a20"/><circle cx="1271.8" cy="181.5" r="3.03" fill="#0871f7"/><circle cx="1273.0" cy="183.3" r="3.03" fill="#0871f7"/></g>
<use href="#m" transform="translate(1037.50,95.50) scale(1.0086)"/>
<text x="988.6" y="112.9" font-size="12.20" font-weight="bold" fill="#262626" text-anchor="start" textLength="15.7" lengthAdjust="spacingAndGlyphs" stroke="#262626" stroke-width="0.28">48</text>
<circle cx="1009.2" cy="99.9" r="1.45" fill="none" stroke="#262626" stroke-width="0.9"/>
<text x="1018.0" y="112.9" font-size="12.20" font-weight="bold" fill="#262626" text-anchor="start" textLength="8.9" lengthAdjust="spacingAndGlyphs" stroke="#262626" stroke-width="0.28">N</text>
<text x="988.6" y="130.4" font-size="12.20" font-weight="bold" fill="#262626" text-anchor="start" textLength="15.7" lengthAdjust="spacingAndGlyphs" stroke="#262626" stroke-width="0.28">46</text>
<circle cx="1009.2" cy="117.4" r="1.45" fill="none" stroke="#262626" stroke-width="0.9"/>
<text x="1018.0" y="130.4" font-size="12.20" font-weight="bold" fill="#262626" text-anchor="start" textLength="8.9" lengthAdjust="spacingAndGlyphs" stroke="#262626" stroke-width="0.28">N</text>
<text x="988.6" y="147.8" font-size="12.20" font-weight="bold" fill="#262626" text-anchor="start" textLength="15.7" lengthAdjust="spacingAndGlyphs" stroke="#262626" stroke-width="0.28">44</text>
<circle cx="1009.2" cy="134.8" r="1.45" fill="none" stroke="#262626" stroke-width="0.9"/>
<text x="1018.0" y="147.8" font-size="12.20" font-weight="bold" fill="#262626" text-anchor="start" textLength="8.9" lengthAdjust="spacingAndGlyphs" stroke="#262626" stroke-width="0.28">N</text>
<text x="988.6" y="166.9" font-size="12.20" font-weight="bold" fill="#262626" text-anchor="start" textLength="15.7" lengthAdjust="spacingAndGlyphs" stroke="#262626" stroke-width="0.28">42</text>
<circle cx="1009.2" cy="153.9" r="1.45" fill="none" stroke="#262626" stroke-width="0.9"/>
<text x="1018.0" y="166.9" font-size="12.20" font-weight="bold" fill="#262626" text-anchor="start" textLength="8.9" lengthAdjust="spacingAndGlyphs" stroke="#262626" stroke-width="0.28">N</text>
<text x="988.6" y="182.7" font-size="12.20" font-weight="bold" fill="#262626" text-anchor="start" textLength="15.7" lengthAdjust="spacingAndGlyphs" stroke="#262626" stroke-width="0.28">40</text>
<circle cx="1009.2" cy="169.7" r="1.45" fill="none" stroke="#262626" stroke-width="0.9"/>
<text x="1018.0" y="182.7" font-size="12.20" font-weight="bold" fill="#262626" text-anchor="start" textLength="8.9" lengthAdjust="spacingAndGlyphs" stroke="#262626" stroke-width="0.28">N</text>
<text x="988.6" y="198.0" font-size="12.20" font-weight="bold" fill="#262626" text-anchor="start" textLength="15.7" lengthAdjust="spacingAndGlyphs" stroke="#262626" stroke-width="0.28">38</text>
<circle cx="1009.2" cy="185.0" r="1.45" fill="none" stroke="#262626" stroke-width="0.9"/>
<text x="1018.0" y="198.0" font-size="12.20" font-weight="bold" fill="#262626" text-anchor="start" textLength="8.9" lengthAdjust="spacingAndGlyphs" stroke="#262626" stroke-width="0.28">N</text>
<text x="988.6" y="214.5" font-size="12.20" font-weight="bold" fill="#262626" text-anchor="start" textLength="15.7" lengthAdjust="spacingAndGlyphs" stroke="#262626" stroke-width="0.28">36</text>
<circle cx="1009.2" cy="201.5" r="1.45" fill="none" stroke="#262626" stroke-width="0.9"/>
<text x="1018.0" y="214.5" font-size="12.20" font-weight="bold" fill="#262626" text-anchor="start" textLength="8.9" lengthAdjust="spacingAndGlyphs" stroke="#262626" stroke-width="0.28">N</text>
<text x="988.6" y="228.8" font-size="12.20" font-weight="bold" fill="#262626" text-anchor="start" textLength="15.7" lengthAdjust="spacingAndGlyphs" stroke="#262626" stroke-width="0.28">34</text>
<circle cx="1009.2" cy="215.8" r="1.45" fill="none" stroke="#262626" stroke-width="0.9"/>
<text x="1018.0" y="228.8" font-size="12.20" font-weight="bold" fill="#262626" text-anchor="start" textLength="8.9" lengthAdjust="spacingAndGlyphs" stroke="#262626" stroke-width="0.28">N</text>
<text x="988.6" y="245.5" font-size="12.20" font-weight="bold" fill="#262626" text-anchor="start" textLength="15.7" lengthAdjust="spacingAndGlyphs" stroke="#262626" stroke-width="0.28">32</text>
<circle cx="1009.2" cy="232.5" r="1.45" fill="none" stroke="#262626" stroke-width="0.9"/>
<text x="1018.0" y="245.5" font-size="12.20" font-weight="bold" fill="#262626" text-anchor="start" textLength="8.9" lengthAdjust="spacingAndGlyphs" stroke="#262626" stroke-width="0.28">N</text>
<text x="988.6" y="259.6" font-size="12.20" font-weight="bold" fill="#262626" text-anchor="start" textLength="15.7" lengthAdjust="spacingAndGlyphs" stroke="#262626" stroke-width="0.28">30</text>
<circle cx="1009.2" cy="246.6" r="1.45" fill="none" stroke="#262626" stroke-width="0.9"/>
<text x="1018.0" y="259.6" font-size="12.20" font-weight="bold" fill="#262626" text-anchor="start" textLength="8.9" lengthAdjust="spacingAndGlyphs" stroke="#262626" stroke-width="0.28">N</text>
<text x="988.6" y="272.7" font-size="12.20" font-weight="bold" fill="#262626" text-anchor="start" textLength="15.7" lengthAdjust="spacingAndGlyphs" stroke="#262626" stroke-width="0.28">28</text>
<circle cx="1009.2" cy="259.7" r="1.45" fill="none" stroke="#262626" stroke-width="0.9"/>
<text x="1018.0" y="272.7" font-size="12.20" font-weight="bold" fill="#262626" text-anchor="start" textLength="8.9" lengthAdjust="spacingAndGlyphs" stroke="#262626" stroke-width="0.28">N</text>
<text x="988.6" y="287.7" font-size="12.20" font-weight="bold" fill="#262626" text-anchor="start" textLength="15.7" lengthAdjust="spacingAndGlyphs" stroke="#262626" stroke-width="0.28">26</text>
<circle cx="1009.2" cy="274.7" r="1.45" fill="none" stroke="#262626" stroke-width="0.9"/>
<text x="1018.0" y="287.7" font-size="12.20" font-weight="bold" fill="#262626" text-anchor="start" textLength="8.9" lengthAdjust="spacingAndGlyphs" stroke="#262626" stroke-width="0.28">N</text>
<text x="988.6" y="301.8" font-size="12.20" font-weight="bold" fill="#262626" text-anchor="start" textLength="15.7" lengthAdjust="spacingAndGlyphs" stroke="#262626" stroke-width="0.28">24</text>
<circle cx="1009.2" cy="288.8" r="1.45" fill="none" stroke="#262626" stroke-width="0.9"/>
<text x="1018.0" y="301.8" font-size="12.20" font-weight="bold" fill="#262626" text-anchor="start" textLength="8.9" lengthAdjust="spacingAndGlyphs" stroke="#262626" stroke-width="0.28">N</text>
<text x="988.6" y="314.6" font-size="12.20" font-weight="bold" fill="#262626" text-anchor="start" textLength="15.7" lengthAdjust="spacingAndGlyphs" stroke="#262626" stroke-width="0.28">22</text>
<circle cx="1009.2" cy="301.6" r="1.45" fill="none" stroke="#262626" stroke-width="0.9"/>
<text x="1018.0" y="314.6" font-size="12.20" font-weight="bold" fill="#262626" text-anchor="start" textLength="8.9" lengthAdjust="spacingAndGlyphs" stroke="#262626" stroke-width="0.28">N</text>
<text x="1059.7" y="74.7" font-size="12.20" font-weight="bold" fill="#262626" text-anchor="start" textLength="24.6" lengthAdjust="spacingAndGlyphs" stroke="#262626" stroke-width="0.28">100</text>
<circle cx="1087.8" cy="62.1" r="1.45" fill="none" stroke="#262626" stroke-width="0.9"/>
<text x="1096.5" y="74.7" font-size="12.20" font-weight="bold" fill="#262626" text-anchor="start" textLength="13.1" lengthAdjust="spacingAndGlyphs" stroke="#262626" stroke-width="0.28">W</text>
<text x="1127.8" y="74.7" font-size="12.20" font-weight="bold" fill="#262626" text-anchor="start" textLength="16.9" lengthAdjust="spacingAndGlyphs" stroke="#262626" stroke-width="0.28">90</text>
<circle cx="1148.6" cy="62.1" r="1.45" fill="none" stroke="#262626" stroke-width="0.9"/>
<text x="1156.8" y="74.7" font-size="12.20" font-weight="bold" fill="#262626" text-anchor="start" textLength="13.0" lengthAdjust="spacingAndGlyphs" stroke="#262626" stroke-width="0.28">W</text>
<text x="1190.6" y="74.7" font-size="12.20" font-weight="bold" fill="#262626" text-anchor="start" textLength="17.0" lengthAdjust="spacingAndGlyphs" stroke="#262626" stroke-width="0.28">80</text>
<circle cx="1211.0" cy="62.1" r="1.45" fill="none" stroke="#262626" stroke-width="0.9"/>
<text x="1219.7" y="74.7" font-size="12.20" font-weight="bold" fill="#262626" text-anchor="start" textLength="13.0" lengthAdjust="spacingAndGlyphs" stroke="#262626" stroke-width="0.28">W</text>
<text x="1255.9" y="74.7" font-size="12.20" font-weight="bold" fill="#262626" text-anchor="start" textLength="15.6" lengthAdjust="spacingAndGlyphs" stroke="#262626" stroke-width="0.28">70</text>
<circle cx="1275.5" cy="62.1" r="1.45" fill="none" stroke="#262626" stroke-width="0.9"/>
<text x="1284.7" y="74.7" font-size="12.20" font-weight="bold" fill="#262626" text-anchor="start" textLength="13.0" lengthAdjust="spacingAndGlyphs" stroke="#262626" stroke-width="0.28">W</text>
<rect x="1285.4" y="93.4" width="23.0" height="218.8" fill="url(#jet)" stroke="#1a1a1a" stroke-width="0.7"/>
<text x="1318.0" y="101.1" font-size="21.00" font-weight="bold" fill="#262626" text-anchor="start" textLength="55.2" lengthAdjust="spacingAndGlyphs" stroke="#262626" stroke-width="0.50">1000</text>
<path d="M1308.3 142.2h-2.6" stroke="#1a1a1a" stroke-width="0.8"/>
<text x="1318.0" y="149.5" font-size="21.00" font-weight="bold" fill="#262626" text-anchor="start" textLength="41.4" lengthAdjust="spacingAndGlyphs" stroke="#262626" stroke-width="0.50">800</text>
<path d="M1308.3 190.6h-2.6" stroke="#1a1a1a" stroke-width="0.8"/>
<text x="1318.0" y="197.9" font-size="21.00" font-weight="bold" fill="#262626" text-anchor="start" textLength="41.4" lengthAdjust="spacingAndGlyphs" stroke="#262626" stroke-width="0.50">600</text>
<path d="M1308.3 239.4h-2.6" stroke="#1a1a1a" stroke-width="0.8"/>
<text x="1318.0" y="246.8" font-size="21.00" font-weight="bold" fill="#262626" text-anchor="start" textLength="41.4" lengthAdjust="spacingAndGlyphs" stroke="#262626" stroke-width="0.50">400</text>
<path d="M1308.3 288.0h-2.6" stroke="#1a1a1a" stroke-width="0.8"/>
<text x="1318.0" y="295.4" font-size="21.00" font-weight="bold" fill="#262626" text-anchor="start" textLength="41.4" lengthAdjust="spacingAndGlyphs" stroke="#262626" stroke-width="0.50">200</text>
<text x="1035.8" y="340.8" font-size="22.80" font-weight="bold" fill="#262626" text-anchor="start" textLength="72.6" lengthAdjust="spacingAndGlyphs" stroke="#262626" stroke-width="0.50">Cloud</text>
<text x="1116.4" y="340.8" font-size="22.80" font-weight="bold" fill="#262626" text-anchor="start" textLength="70.4" lengthAdjust="spacingAndGlyphs" stroke="#262626" stroke-width="0.50">Press</text>
<text x="1194.8" y="340.8" font-size="22.80" font-weight="bold" fill="#262626" text-anchor="start" textLength="68.5" lengthAdjust="spacingAndGlyphs" stroke="#262626" stroke-width="0.50">(hPa)</text>
<rect x="196.5" y="486.4" width="233.0" height="213.0" fill="#fff" stroke="#262626" stroke-width="1"/>
<g><circle cx="404.8" cy="504.6" r="3.00" fill="#8cf773"/><circle cx="420.5" cy="529.6" r="3.00" fill="#39f7c6"/><circle cx="428.9" cy="536.9" r="3.00" fill="#56f7a9"/><circle cx="409.0" cy="504.7" r="3.00" fill="#4bf7b4"/><circle cx="413.3" cy="497.1" r="3.00" fill="#2df7d2"/><circle cx="407.2" cy="493.6" r="3.00" fill="#86f779"/><circle cx="419.8" cy="486.3" r="3.00" fill="#78f787"/><circle cx="426.7" cy="525.9" r="3.00" fill="#ebf714"/><circle cx="422.1" cy="519.0" r="3.00" fill="#c7f738"/><circle cx="424.5" cy="522.0" r="3.00" fill="#90f76f"/><circle cx="409.1" cy="497.0" r="3.00" fill="#68f797"/><circle cx="407.6" cy="529.6" r="3.00" fill="#f7ba08"/><circle cx="398.4" cy="486.3" r="3.00" fill="#39f7c6"/><circle cx="424.3" cy="486.3" r="3.00" fill="#08f6f7"/><circle cx="422.1" cy="532.7" r="3.00" fill="#cdf732"/><circle cx="420.5" cy="550.8" r="3.00" fill="#f7a108"/><circle cx="417.6" cy="489.6" r="3.00" fill="#74f78b"/><circle cx="398.1" cy="493.4" r="3.00" fill="#2af7d5"/><circle cx="426.7" cy="511.1" r="3.00" fill="#8cf773"/><circle cx="402.8" cy="493.8" r="3.00" fill="#52f7ad"/><circle cx="426.7" cy="504.7" r="3.00" fill="#73f78c"/><circle cx="416.0" cy="493.8" r="3.00" fill="#7bf784"/><circle cx="422.3" cy="489.7" r="3.00" fill="#08f3f7"/><circle cx="404.9" cy="489.7" r="3.00" fill="#6ff790"/><circle cx="419.9" cy="522.6" r="3.00" fill="#66f799"/><circle cx="415.3" cy="515.0" r="3.00" fill="#c0f73f"/><circle cx="415.3" cy="507.6" r="3.00" fill="#36f7c9"/><circle cx="413.8" cy="532.8" r="3.00" fill="#e0f71f"/><circle cx="428.9" cy="522.5" r="3.00" fill="#66f799"/><circle cx="409.5" cy="518.6" r="3.00" fill="#f79c08"/><circle cx="426.7" cy="547.8" r="3.00" fill="#084bf7"/><circle cx="426.7" cy="533.4" r="3.00" fill="#bff740"/><circle cx="415.8" cy="536.6" r="3.00" fill="#6ef791"/><circle cx="413.1" cy="511.5" r="3.00" fill="#f7ee08"/><circle cx="428.9" cy="507.6" r="3.00" fill="#77f788"/><circle cx="424.8" cy="536.7" r="3.00" fill="#e8f717"/><circle cx="426.7" cy="554.8" r="3.00" fill="#0df7f2"/><circle cx="428.9" cy="558.6" r="3.00" fill="#08f7f7"/><circle cx="402.4" cy="486.3" r="3.00" fill="#4cf7b3"/><circle cx="416.4" cy="486.3" r="3.00" fill="#88f777"/><circle cx="404.4" cy="511.5" r="3.00" fill="#cff730"/><circle cx="418.8" cy="554.4" r="3.00" fill="#f7b808"/><circle cx="415.3" cy="529.2" r="3.00" fill="#a0f75f"/><circle cx="424.8" cy="529.2" r="3.00" fill="#c6f739"/><circle cx="424.4" cy="508.3" r="3.00" fill="#3af7c5"/><circle cx="424.9" cy="515.1" r="3.00" fill="#7bf784"/><circle cx="406.0" cy="526.2" r="3.00" fill="#f7b408"/><circle cx="422.6" cy="547.2" r="3.00" fill="#f7af08"/><circle cx="409.0" cy="486.3" r="3.00" fill="#5bf7a4"/><circle cx="396.4" cy="504.6" r="3.00" fill="#75f78a"/><circle cx="419.9" cy="515.0" r="3.00" fill="#ecf713"/><circle cx="417.2" cy="551.3" r="3.00" fill="#f7a208"/><circle cx="428.9" cy="486.3" r="3.00" fill="#16f7e9"/><circle cx="426.7" cy="540.5" r="3.00" fill="#0858f7"/><circle cx="391.8" cy="489.6" r="3.00" fill="#32f7cd"/><circle cx="411.4" cy="529.6" r="3.00" fill="#f7b908"/><circle cx="391.6" cy="493.6" r="3.00" fill="#3bf7c4"/><circle cx="413.9" cy="525.6" r="3.00" fill="#c6f739"/><circle cx="424.3" cy="551.1" r="3.00" fill="#08f7f7"/><circle cx="417.5" cy="539.9" r="3.00" fill="#f7bb08"/><circle cx="401.2" cy="515.3" r="3.00" fill="#77f788"/><circle cx="417.5" cy="504.1" r="3.00" fill="#58f7a7"/><circle cx="409.2" cy="533.3" r="3.00" fill="#f7ad08"/><circle cx="426.7" cy="489.7" r="3.00" fill="#0df7f2"/><circle cx="411.5" cy="500.8" r="3.00" fill="#59f7a6"/><circle cx="411.3" cy="493.3" r="3.00" fill="#6cf793"/><circle cx="397.7" cy="500.9" r="3.00" fill="#41f7be"/><circle cx="405.1" cy="496.9" r="3.00" fill="#49f7b6"/><circle cx="424.5" cy="493.2" r="3.00" fill="#16f7e9"/><circle cx="417.7" cy="526.2" r="3.00" fill="#95f76a"/><circle cx="390.0" cy="490.1" r="3.00" fill="#36f7c9"/><circle cx="400.1" cy="504.1" r="3.00" fill="#70f78f"/><circle cx="400.1" cy="490.0" r="3.00" fill="#53f7ac"/><circle cx="402.2" cy="500.7" r="3.00" fill="#8df772"/><circle cx="422.6" cy="554.7" r="3.00" fill="#f7ae08"/><circle cx="422.6" cy="496.7" r="3.00" fill="#0df7f2"/><circle cx="396.1" cy="490.2" r="3.00" fill="#2cf7d3"/><circle cx="424.7" cy="558.0" r="3.00" fill="#11f7ee"/><circle cx="405.0" cy="518.8" r="3.00" fill="#f7b108"/><circle cx="402.8" cy="518.5" r="3.00" fill="#f7af08"/><circle cx="407.1" cy="522.4" r="3.00" fill="#f7b408"/><circle cx="398.0" cy="507.9" r="3.00" fill="#43f7bc"/><circle cx="399.6" cy="511.3" r="3.00" fill="#8af775"/><circle cx="424.8" cy="544.0" r="3.00" fill="#084ff7"/><circle cx="428.9" cy="515.0" r="3.00" fill="#7ff780"/><circle cx="420.0" cy="507.5" r="3.00" fill="#60f79f"/><circle cx="420.4" cy="536.5" r="3.00" fill="#75f78a"/><circle cx="428.9" cy="500.9" r="3.00" fill="#37f7c8"/><circle cx="402.1" cy="514.9" r="3.00" fill="#83f77c"/><circle cx="406.6" cy="486.3" r="3.00" fill="#5af7a5"/><circle cx="404.4" cy="522.5" r="3.00" fill="#f7bd08"/><circle cx="422.3" cy="540.3" r="3.00" fill="#f7b108"/><circle cx="426.7" cy="518.5" r="3.00" fill="#c7f738"/><circle cx="420.1" cy="493.2" r="3.00" fill="#86f779"/><circle cx="409.5" cy="526.3" r="3.00" fill="#f7aa08"/><circle cx="393.8" cy="493.4" r="3.00" fill="#45f7ba"/><circle cx="428.9" cy="550.9" r="3.00" fill="#0bf7f4"/><circle cx="400.2" cy="496.9" r="3.00" fill="#40f7bf"/><circle cx="413.9" cy="504.5" r="3.00" fill="#4bf7b4"/><circle cx="426.7" cy="496.9" r="3.00" fill="#7bf784"/><circle cx="421.9" cy="511.2" r="3.00" fill="#e0f71f"/><circle cx="393.9" cy="486.3" r="3.00" fill="#2af7d5"/><circle cx="418.0" cy="511.2" r="3.00" fill="#f7da08"/><circle cx="411.5" cy="507.8" r="3.00" fill="#31f7ce"/><circle cx="411.1" cy="515.4" r="3.00" fill="#e9f716"/><circle cx="411.2" cy="522.4" r="3.00" fill="#41f7be"/><circle cx="428.9" cy="529.1" r="3.00" fill="#4ef7b1"/><circle cx="406.7" cy="507.6" r="3.00" fill="#6bf794"/><circle cx="413.3" cy="490.2" r="3.00" fill="#2ff7d0"/><circle cx="420.4" cy="558.2" r="3.00" fill="#f7ac08"/><circle cx="409.4" cy="490.1" r="3.00" fill="#aef751"/><circle cx="394.8" cy="500.6" r="3.00" fill="#68f797"/><circle cx="417.6" cy="518.3" r="3.00" fill="#daf725"/><circle cx="428.9" cy="543.9" r="3.00" fill="#084af7"/><circle cx="428.9" cy="493.6" r="3.00" fill="#2ef7d1"/><circle cx="416.0" cy="522.6" r="3.00" fill="#caf735"/><circle cx="388.4" cy="486.3" r="3.00" fill="#3df7c2"/><circle cx="412.4" cy="540.6" r="3.00" fill="#f7af08"/><circle cx="408.9" cy="511.9" r="3.00" fill="#ddf722"/><circle cx="417.5" cy="497.2" r="3.00" fill="#67f798"/><circle cx="415.3" cy="500.5" r="3.00" fill="#3af7c5"/><circle cx="410.8" cy="536.9" r="3.00" fill="#f7a908"/><circle cx="402.9" cy="507.8" r="3.00" fill="#67f798"/><circle cx="413.8" cy="518.8" r="3.00" fill="#f7f608"/><circle cx="396.0" cy="496.9" r="3.00" fill="#5ff7a0"/><circle cx="406.7" cy="500.6" r="3.00" fill="#60f79f"/><circle cx="424.4" cy="500.7" r="3.00" fill="#3cf7c3"/><circle cx="422.4" cy="526.0" r="3.00" fill="#52f7ad"/><circle cx="420.4" cy="500.4" r="3.00" fill="#15f7ea"/><circle cx="393.2" cy="496.8" r="3.00" fill="#69f796"/><circle cx="418.2" cy="532.7" r="3.00" fill="#4ef7b1"/><circle cx="419.8" cy="543.8" r="3.00" fill="#f7ad08"/><circle cx="407.2" cy="515.1" r="3.00" fill="#edf712"/><circle cx="422.5" cy="504.7" r="3.00" fill="#47f7b8"/><path d="M411.5 514.7L415.2 520.3" stroke="#fff" stroke-width="1.9" stroke-linecap="round" fill="none"/></g>
<path d="M429.5 486.4v213.0" stroke="#262626" stroke-width="1"/>
<use href="#m" transform="translate(196.50,486.40) scale(1.0000)"/>
<text x="146.6" y="502.4" font-size="12.20" font-weight="bold" fill="#262626" text-anchor="start" textLength="16.4" lengthAdjust="spacingAndGlyphs" stroke="#262626" stroke-width="0.28">48</text>
<circle cx="167.9" cy="489.4" r="1.45" fill="none" stroke="#262626" stroke-width="0.9"/>
<text x="175.6" y="502.4" font-size="12.20" font-weight="bold" fill="#262626" text-anchor="start" textLength="9.3" lengthAdjust="spacingAndGlyphs" stroke="#262626" stroke-width="0.28">N</text>
<text x="146.6" y="519.9" font-size="12.20" font-weight="bold" fill="#262626" text-anchor="start" textLength="16.4" lengthAdjust="spacingAndGlyphs" stroke="#262626" stroke-width="0.28">46</text>
<circle cx="167.9" cy="506.9" r="1.45" fill="none" stroke="#262626" stroke-width="0.9"/>
<text x="175.6" y="519.9" font-size="12.20" font-weight="bold" fill="#262626" text-anchor="start" textLength="9.3" lengthAdjust="spacingAndGlyphs" stroke="#262626" stroke-width="0.28">N</text>
<text x="146.6" y="537.3" font-size="12.20" font-weight="bold" fill="#262626" text-anchor="start" textLength="16.4" lengthAdjust="spacingAndGlyphs" stroke="#262626" stroke-width="0.28">44</text>
<circle cx="167.9" cy="524.3" r="1.45" fill="none" stroke="#262626" stroke-width="0.9"/>
<text x="175.6" y="537.3" font-size="12.20" font-weight="bold" fill="#262626" text-anchor="start" textLength="9.3" lengthAdjust="spacingAndGlyphs" stroke="#262626" stroke-width="0.28">N</text>
<text x="146.6" y="556.4" font-size="12.20" font-weight="bold" fill="#262626" text-anchor="start" textLength="16.4" lengthAdjust="spacingAndGlyphs" stroke="#262626" stroke-width="0.28">42</text>
<circle cx="167.9" cy="543.4" r="1.45" fill="none" stroke="#262626" stroke-width="0.9"/>
<text x="175.6" y="556.4" font-size="12.20" font-weight="bold" fill="#262626" text-anchor="start" textLength="9.3" lengthAdjust="spacingAndGlyphs" stroke="#262626" stroke-width="0.28">N</text>
<text x="146.6" y="572.2" font-size="12.20" font-weight="bold" fill="#262626" text-anchor="start" textLength="16.4" lengthAdjust="spacingAndGlyphs" stroke="#262626" stroke-width="0.28">40</text>
<circle cx="167.9" cy="559.2" r="1.45" fill="none" stroke="#262626" stroke-width="0.9"/>
<text x="175.6" y="572.2" font-size="12.20" font-weight="bold" fill="#262626" text-anchor="start" textLength="9.3" lengthAdjust="spacingAndGlyphs" stroke="#262626" stroke-width="0.28">N</text>
<text x="146.6" y="587.5" font-size="12.20" font-weight="bold" fill="#262626" text-anchor="start" textLength="16.4" lengthAdjust="spacingAndGlyphs" stroke="#262626" stroke-width="0.28">38</text>
<circle cx="167.9" cy="574.5" r="1.45" fill="none" stroke="#262626" stroke-width="0.9"/>
<text x="175.6" y="587.5" font-size="12.20" font-weight="bold" fill="#262626" text-anchor="start" textLength="9.3" lengthAdjust="spacingAndGlyphs" stroke="#262626" stroke-width="0.28">N</text>
<text x="146.6" y="604.0" font-size="12.20" font-weight="bold" fill="#262626" text-anchor="start" textLength="16.4" lengthAdjust="spacingAndGlyphs" stroke="#262626" stroke-width="0.28">36</text>
<circle cx="167.9" cy="591.0" r="1.45" fill="none" stroke="#262626" stroke-width="0.9"/>
<text x="175.6" y="604.0" font-size="12.20" font-weight="bold" fill="#262626" text-anchor="start" textLength="9.3" lengthAdjust="spacingAndGlyphs" stroke="#262626" stroke-width="0.28">N</text>
<text x="146.6" y="618.3" font-size="12.20" font-weight="bold" fill="#262626" text-anchor="start" textLength="16.4" lengthAdjust="spacingAndGlyphs" stroke="#262626" stroke-width="0.28">34</text>
<circle cx="167.9" cy="605.3" r="1.45" fill="none" stroke="#262626" stroke-width="0.9"/>
<text x="175.6" y="618.3" font-size="12.20" font-weight="bold" fill="#262626" text-anchor="start" textLength="9.3" lengthAdjust="spacingAndGlyphs" stroke="#262626" stroke-width="0.28">N</text>
<text x="146.6" y="635.0" font-size="12.20" font-weight="bold" fill="#262626" text-anchor="start" textLength="16.4" lengthAdjust="spacingAndGlyphs" stroke="#262626" stroke-width="0.28">32</text>
<circle cx="167.9" cy="622.0" r="1.45" fill="none" stroke="#262626" stroke-width="0.9"/>
<text x="175.6" y="635.0" font-size="12.20" font-weight="bold" fill="#262626" text-anchor="start" textLength="9.3" lengthAdjust="spacingAndGlyphs" stroke="#262626" stroke-width="0.28">N</text>
<text x="146.6" y="649.1" font-size="12.20" font-weight="bold" fill="#262626" text-anchor="start" textLength="16.4" lengthAdjust="spacingAndGlyphs" stroke="#262626" stroke-width="0.28">30</text>
<circle cx="167.9" cy="636.1" r="1.45" fill="none" stroke="#262626" stroke-width="0.9"/>
<text x="175.6" y="649.1" font-size="12.20" font-weight="bold" fill="#262626" text-anchor="start" textLength="9.3" lengthAdjust="spacingAndGlyphs" stroke="#262626" stroke-width="0.28">N</text>
<text x="146.6" y="662.2" font-size="12.20" font-weight="bold" fill="#262626" text-anchor="start" textLength="16.4" lengthAdjust="spacingAndGlyphs" stroke="#262626" stroke-width="0.28">28</text>
<circle cx="167.9" cy="649.2" r="1.45" fill="none" stroke="#262626" stroke-width="0.9"/>
<text x="175.6" y="662.2" font-size="12.20" font-weight="bold" fill="#262626" text-anchor="start" textLength="9.3" lengthAdjust="spacingAndGlyphs" stroke="#262626" stroke-width="0.28">N</text>
<text x="146.6" y="677.2" font-size="12.20" font-weight="bold" fill="#262626" text-anchor="start" textLength="16.4" lengthAdjust="spacingAndGlyphs" stroke="#262626" stroke-width="0.28">26</text>
<circle cx="167.9" cy="664.2" r="1.45" fill="none" stroke="#262626" stroke-width="0.9"/>
<text x="175.6" y="677.2" font-size="12.20" font-weight="bold" fill="#262626" text-anchor="start" textLength="9.3" lengthAdjust="spacingAndGlyphs" stroke="#262626" stroke-width="0.28">N</text>
<text x="146.6" y="691.3" font-size="12.20" font-weight="bold" fill="#262626" text-anchor="start" textLength="16.4" lengthAdjust="spacingAndGlyphs" stroke="#262626" stroke-width="0.28">24</text>
<circle cx="167.9" cy="678.3" r="1.45" fill="none" stroke="#262626" stroke-width="0.9"/>
<text x="175.6" y="691.3" font-size="12.20" font-weight="bold" fill="#262626" text-anchor="start" textLength="9.3" lengthAdjust="spacingAndGlyphs" stroke="#262626" stroke-width="0.28">N</text>
<text x="146.6" y="704.1" font-size="12.20" font-weight="bold" fill="#262626" text-anchor="start" textLength="16.4" lengthAdjust="spacingAndGlyphs" stroke="#262626" stroke-width="0.28">22</text>
<circle cx="167.9" cy="691.1" r="1.45" fill="none" stroke="#262626" stroke-width="0.9"/>
<text x="175.6" y="704.1" font-size="12.20" font-weight="bold" fill="#262626" text-anchor="start" textLength="9.3" lengthAdjust="spacingAndGlyphs" stroke="#262626" stroke-width="0.28">N</text>
<text x="215.7" y="466.2" font-size="12.20" font-weight="bold" fill="#262626" text-anchor="start" textLength="24.5" lengthAdjust="spacingAndGlyphs" stroke="#262626" stroke-width="0.28">100</text>
<circle cx="245.2" cy="453.6" r="1.45" fill="none" stroke="#262626" stroke-width="0.9"/>
<text x="252.7" y="466.2" font-size="12.20" font-weight="bold" fill="#262626" text-anchor="start" textLength="13.3" lengthAdjust="spacingAndGlyphs" stroke="#262626" stroke-width="0.28">W</text>
<text x="284.4" y="466.2" font-size="12.20" font-weight="bold" fill="#262626" text-anchor="start" textLength="16.3" lengthAdjust="spacingAndGlyphs" stroke="#262626" stroke-width="0.28">90</text>
<circle cx="304.7" cy="453.6" r="1.45" fill="none" stroke="#262626" stroke-width="0.9"/>
<text x="313.7" y="466.2" font-size="12.20" font-weight="bold" fill="#262626" text-anchor="start" textLength="13.1" lengthAdjust="spacingAndGlyphs" stroke="#262626" stroke-width="0.28">W</text>
<text x="348.5" y="466.2" font-size="12.20" font-weight="bold" fill="#262626" text-anchor="start" textLength="16.8" lengthAdjust="spacingAndGlyphs" stroke="#262626" stroke-width="0.28">80</text>
<circle cx="369.6" cy="453.6" r="1.45" fill="none" stroke="#262626" stroke-width="0.9"/>
<text x="377.8" y="466.2" font-size="12.20" font-weight="bold" fill="#262626" text-anchor="start" textLength="13.2" lengthAdjust="spacingAndGlyphs" stroke="#262626" stroke-width="0.28">W</text>
<text x="412.1" y="466.2" font-size="12.20" font-weight="bold" fill="#262626" text-anchor="start" textLength="15.6" lengthAdjust="spacingAndGlyphs" stroke="#262626" stroke-width="0.28">70</text>
<circle cx="431.7" cy="453.6" r="1.45" fill="none" stroke="#262626" stroke-width="0.9"/>
<text x="440.7" y="466.2" font-size="12.20" font-weight="bold" fill="#262626" text-anchor="start" textLength="13.3" lengthAdjust="spacingAndGlyphs" stroke="#262626" stroke-width="0.28">W</text>
<rect x="441.4" y="483.5" width="23.2" height="218.8" fill="url(#jet)" stroke="#1a1a1a" stroke-width="0.7"/>
<path d="M464.4 498.5h-2.6" stroke="#1a1a1a" stroke-width="0.8"/>
<text x="473.6" y="505.9" font-size="21.00" font-weight="bold" fill="#262626" text-anchor="start" textLength="13.8" lengthAdjust="spacingAndGlyphs" stroke="#262626" stroke-width="0.50">5</text>
<path d="M464.4 592.7h-2.6" stroke="#1a1a1a" stroke-width="0.8"/>
<text x="473.6" y="600.1" font-size="21.00" font-weight="bold" fill="#262626" text-anchor="start" textLength="13.8" lengthAdjust="spacingAndGlyphs" stroke="#262626" stroke-width="0.50">0</text>
<path d="M464.4 686.6h-2.6" stroke="#1a1a1a" stroke-width="0.8"/>
<text x="473.6" y="694.0" font-size="21.00" font-weight="bold" fill="#262626" text-anchor="start" textLength="22.1" lengthAdjust="spacingAndGlyphs" stroke="#262626" stroke-width="0.50">-5</text>
<text x="109.0" y="730.8" font-size="22.80" font-weight="bold" fill="#262626" text-anchor="start" textLength="107.6" lengthAdjust="spacingAndGlyphs" stroke="#262626" stroke-width="0.50">SAT-RAP</text>
<text x="224.6" y="730.8" font-size="22.80" font-weight="bold" fill="#262626" text-anchor="start" textLength="117.2" lengthAdjust="spacingAndGlyphs" stroke="#262626" stroke-width="0.50">Negative</text>
<text x="349.8" y="730.8" font-size="22.80" font-weight="bold" fill="#262626" text-anchor="start" textLength="76.1" lengthAdjust="spacingAndGlyphs" stroke="#262626" stroke-width="0.50">Lifted</text>
<text x="434.0" y="730.8" font-size="22.80" font-weight="bold" fill="#262626" text-anchor="start" textLength="72.3" lengthAdjust="spacingAndGlyphs" stroke="#262626" stroke-width="0.50">Index</text>
<rect x="617.5" y="486.4" width="233.0" height="213.0" fill="#fff" stroke="#262626" stroke-width="1"/>
<g><circle cx="843.6" cy="489.6" r="3.00" fill="#80f780"/><circle cx="828.6" cy="529.5" r="3.00" fill="#80f780"/><circle cx="827.7" cy="493.9" r="3.00" fill="#80f780"/><circle cx="830.0" cy="486.3" r="3.00" fill="#80f780"/><circle cx="849.9" cy="493.8" r="3.00" fill="#80f780"/><circle cx="828.1" cy="486.3" r="3.00" fill="#80f780"/><circle cx="842.9" cy="554.6" r="3.00" fill="#80f780"/><circle cx="836.6" cy="547.5" r="3.00" fill="#80f780"/><circle cx="845.2" cy="515.0" r="3.00" fill="#80f780"/><circle cx="841.2" cy="551.2" r="3.00" fill="#80f780"/><circle cx="838.2" cy="550.9" r="3.00" fill="#80f780"/><circle cx="823.7" cy="493.9" r="3.00" fill="#80f780"/><circle cx="827.7" cy="522.3" r="3.00" fill="#80f780"/><circle cx="849.9" cy="522.6" r="3.00" fill="#80f780"/><circle cx="839.8" cy="554.5" r="3.00" fill="#80f780"/><circle cx="831.8" cy="537.0" r="3.00" fill="#80f780"/><circle cx="823.8" cy="518.7" r="3.00" fill="#80f780"/><circle cx="837.4" cy="486.3" r="3.00" fill="#80f780"/><circle cx="840.9" cy="544.0" r="3.00" fill="#80f780"/><circle cx="845.6" cy="529.7" r="3.00" fill="#80f780"/><circle cx="849.9" cy="529.8" r="3.00" fill="#80f780"/><circle cx="834.5" cy="490.0" r="3.00" fill="#80f780"/><circle cx="839.1" cy="504.6" r="3.00" fill="#80f780"/><circle cx="839.0" cy="540.5" r="3.00" fill="#80f780"/><circle cx="841.5" cy="493.8" r="3.00" fill="#80f780"/><circle cx="843.3" cy="511.4" r="3.00" fill="#80f780"/><circle cx="843.2" cy="518.4" r="3.00" fill="#80f780"/><circle cx="811.0" cy="490.3" r="3.00" fill="#80f780"/><circle cx="845.3" cy="493.3" r="3.00" fill="#80f780"/><circle cx="841.3" cy="522.5" r="3.00" fill="#80f780"/><circle cx="832.2" cy="522.5" r="3.00" fill="#80f780"/><circle cx="812.6" cy="489.6" r="3.00" fill="#80f780"/><circle cx="825.4" cy="518.5" r="3.00" fill="#80f780"/><circle cx="849.9" cy="486.3" r="3.00" fill="#80f780"/><circle cx="838.5" cy="511.8" r="3.00" fill="#80f780"/><circle cx="838.8" cy="547.2" r="3.00" fill="#80f780"/><circle cx="849.9" cy="543.6" r="3.00" fill="#80f780"/><circle cx="820.6" cy="511.6" r="3.00" fill="#80f780"/><circle cx="836.9" cy="508.3" r="3.00" fill="#80f780"/><circle cx="849.9" cy="507.7" r="3.00" fill="#80f780"/><circle cx="845.5" cy="551.0" r="3.00" fill="#80f780"/><circle cx="849.9" cy="536.7" r="3.00" fill="#80f780"/><circle cx="847.7" cy="496.8" r="3.00" fill="#80f780"/><circle cx="823.8" cy="501.1" r="3.00" fill="#80f780"/><circle cx="819.0" cy="507.9" r="3.00" fill="#80f780"/><circle cx="829.9" cy="526.0" r="3.00" fill="#80f780"/><circle cx="845.4" cy="507.6" r="3.00" fill="#80f780"/><circle cx="841.0" cy="529.6" r="3.00" fill="#80f780"/><circle cx="830.4" cy="497.1" r="3.00" fill="#80f780"/><circle cx="834.4" cy="496.9" r="3.00" fill="#80f780"/><circle cx="814.2" cy="496.8" r="3.00" fill="#80f780"/><circle cx="834.1" cy="525.9" r="3.00" fill="#80f780"/><circle cx="836.9" cy="529.8" r="3.00" fill="#80f780"/><circle cx="847.7" cy="540.2" r="3.00" fill="#80f780"/><circle cx="818.7" cy="486.3" r="3.00" fill="#80f780"/><circle cx="843.0" cy="504.5" r="3.00" fill="#80f780"/><circle cx="825.9" cy="511.9" r="3.00" fill="#80f780"/><circle cx="847.7" cy="547.3" r="3.00" fill="#80f780"/><circle cx="829.7" cy="489.7" r="3.00" fill="#80f780"/><circle cx="834.9" cy="518.8" r="3.00" fill="#80f780"/><circle cx="845.7" cy="536.9" r="3.00" fill="#80f780"/><circle cx="841.0" cy="500.8" r="3.00" fill="#80f780"/><circle cx="823.8" cy="486.3" r="3.00" fill="#80f780"/><circle cx="841.3" cy="486.3" r="3.00" fill="#80f780"/><circle cx="845.4" cy="522.5" r="3.00" fill="#80f780"/><circle cx="836.8" cy="522.5" r="3.00" fill="#80f780"/><circle cx="825.6" cy="497.1" r="3.00" fill="#80f780"/><circle cx="828.3" cy="507.9" r="3.00" fill="#80f780"/><circle cx="815.8" cy="500.9" r="3.00" fill="#80f780"/><circle cx="849.9" cy="501.0" r="3.00" fill="#80f780"/><circle cx="845.6" cy="486.3" r="3.00" fill="#80f780"/><circle cx="843.4" cy="540.5" r="3.00" fill="#80f780"/><circle cx="843.1" cy="497.2" r="3.00" fill="#80f780"/><circle cx="841.3" cy="536.4" r="3.00" fill="#80f780"/><circle cx="817.3" cy="496.7" r="3.00" fill="#80f780"/><circle cx="838.5" cy="497.2" r="3.00" fill="#80f780"/><circle cx="843.7" cy="533.5" r="3.00" fill="#80f780"/><circle cx="838.9" cy="533.1" r="3.00" fill="#80f780"/><circle cx="847.7" cy="504.5" r="3.00" fill="#80f780"/><circle cx="825.4" cy="522.5" r="3.00" fill="#80f780"/><circle cx="833.4" cy="540.4" r="3.00" fill="#80f780"/><circle cx="836.8" cy="543.5" r="3.00" fill="#80f780"/><circle cx="823.4" cy="507.7" r="3.00" fill="#80f780"/><circle cx="819.4" cy="493.3" r="3.00" fill="#80f780"/><circle cx="821.2" cy="504.6" r="3.00" fill="#80f780"/><circle cx="825.8" cy="504.6" r="3.00" fill="#80f780"/><circle cx="839.0" cy="526.0" r="3.00" fill="#80f780"/><circle cx="827.0" cy="526.1" r="3.00" fill="#80f780"/><circle cx="847.7" cy="518.5" r="3.00" fill="#80f780"/><circle cx="847.7" cy="526.1" r="3.00" fill="#80f780"/><circle cx="834.2" cy="533.4" r="3.00" fill="#80f780"/><circle cx="842.9" cy="547.2" r="3.00" fill="#80f780"/><circle cx="823.5" cy="515.3" r="3.00" fill="#80f780"/><circle cx="830.2" cy="533.4" r="3.00" fill="#80f780"/><circle cx="845.1" cy="500.9" r="3.00" fill="#80f780"/><circle cx="838.9" cy="489.7" r="3.00" fill="#80f780"/><circle cx="847.7" cy="533.3" r="3.00" fill="#80f780"/><circle cx="809.4" cy="486.3" r="3.00" fill="#80f780"/><circle cx="830.1" cy="518.6" r="3.00" fill="#80f780"/><circle cx="832.0" cy="501.1" r="3.00" fill="#80f780"/><circle cx="847.7" cy="490.0" r="3.00" fill="#80f780"/><circle cx="849.9" cy="550.7" r="3.00" fill="#80f780"/><circle cx="821.5" cy="489.6" r="3.00" fill="#80f780"/><circle cx="832.3" cy="493.6" r="3.00" fill="#80f780"/><circle cx="832.0" cy="507.5" r="3.00" fill="#80f780"/><circle cx="836.9" cy="536.8" r="3.00" fill="#80f780"/><circle cx="817.4" cy="504.3" r="3.00" fill="#80f780"/><circle cx="832.7" cy="515.4" r="3.00" fill="#80f780"/><circle cx="812.6" cy="493.1" r="3.00" fill="#80f780"/><circle cx="817.1" cy="489.6" r="3.00" fill="#80f780"/><circle cx="840.8" cy="507.6" r="3.00" fill="#80f780"/><circle cx="819.0" cy="500.6" r="3.00" fill="#80f780"/><circle cx="834.1" cy="511.5" r="3.00" fill="#80f780"/><circle cx="838.8" cy="519.1" r="3.00" fill="#80f780"/><circle cx="849.9" cy="515.3" r="3.00" fill="#80f780"/><circle cx="835.0" cy="543.5" r="3.00" fill="#80f780"/><circle cx="834.1" cy="504.7" r="3.00" fill="#80f780"/><circle cx="829.8" cy="504.2" r="3.00" fill="#80f780"/><circle cx="825.5" cy="490.2" r="3.00" fill="#80f780"/><circle cx="847.7" cy="555.0" r="3.00" fill="#80f780"/><circle cx="827.7" cy="500.9" r="3.00" fill="#80f780"/><circle cx="821.5" cy="496.7" r="3.00" fill="#80f780"/><circle cx="840.8" cy="515.4" r="3.00" fill="#80f780"/><circle cx="845.5" cy="544.0" r="3.00" fill="#80f780"/><circle cx="836.3" cy="500.3" r="3.00" fill="#80f780"/><circle cx="847.7" cy="511.8" r="3.00" fill="#80f780"/><circle cx="830.4" cy="511.2" r="3.00" fill="#80f780"/><circle cx="836.5" cy="515.1" r="3.00" fill="#80f780"/><circle cx="836.5" cy="493.9" r="3.00" fill="#80f780"/><circle cx="828.3" cy="515.1" r="3.00" fill="#80f780"/><circle cx="814.7" cy="486.3" r="3.00" fill="#80f780"/><circle cx="843.1" cy="526.3" r="3.00" fill="#80f780"/><circle cx="814.6" cy="493.2" r="3.00" fill="#80f780"/><circle cx="832.2" cy="529.8" r="3.00" fill="#80f780"/><circle cx="822.2" cy="515.2" r="3.00" fill="#80f780"/><path d="M832.5 514.7L836.2 520.3" stroke="#fff" stroke-width="1.9" stroke-linecap="round" fill="none"/></g>
<path d="M850.5 486.4v213.0" stroke="#262626" stroke-width="1"/>
<use href="#m" transform="translate(617.50,486.40) scale(1.0000)"/>
<text x="567.6" y="502.4" font-size="12.20" font-weight="bold" fill="#262626" text-anchor="start" textLength="16.4" lengthAdjust="spacingAndGlyphs" stroke="#262626" stroke-width="0.28">48</text>
<circle cx="588.9" cy="489.4" r="1.45" fill="none" stroke="#262626" stroke-width="0.9"/>
<text x="596.6" y="502.4" font-size="12.20" font-weight="bold" fill="#262626" text-anchor="start" textLength="9.3" lengthAdjust="spacingAndGlyphs" stroke="#262626" stroke-width="0.28">N</text>
<text x="567.6" y="519.9" font-size="12.20" font-weight="bold" fill="#262626" text-anchor="start" textLength="16.4" lengthAdjust="spacingAndGlyphs" stroke="#262626" stroke-width="0.28">46</text>
<circle cx="588.9" cy="506.9" r="1.45" fill="none" stroke="#262626" stroke-width="0.9"/>
<text x="596.6" y="519.9" font-size="12.20" font-weight="bold" fill="#262626" text-anchor="start" textLength="9.3" lengthAdjust="spacingAndGlyphs" stroke="#262626" stroke-width="0.28">N</text>
<text x="567.6" y="537.3" font-size="12.20" font-weight="bold" fill="#262626" text-anchor="start" textLength="16.4" lengthAdjust="spacingAndGlyphs" stroke="#262626" stroke-width="0.28">44</text>
<circle cx="588.9" cy="524.3" r="1.45" fill="none" stroke="#262626" stroke-width="0.9"/>
<text x="596.6" y="537.3" font-size="12.20" font-weight="bold" fill="#262626" text-anchor="start" textLength="9.3" lengthAdjust="spacingAndGlyphs" stroke="#262626" stroke-width="0.28">N</text>
<text x="567.6" y="556.4" font-size="12.20" font-weight="bold" fill="#262626" text-anchor="start" textLength="16.4" lengthAdjust="spacingAndGlyphs" stroke="#262626" stroke-width="0.28">42</text>
<circle cx="588.9" cy="543.4" r="1.45" fill="none" stroke="#262626" stroke-width="0.9"/>
<text x="596.6" y="556.4" font-size="12.20" font-weight="bold" fill="#262626" text-anchor="start" textLength="9.3" lengthAdjust="spacingAndGlyphs" stroke="#262626" stroke-width="0.28">N</text>
<text x="567.6" y="572.2" font-size="12.20" font-weight="bold" fill="#262626" text-anchor="start" textLength="16.4" lengthAdjust="spacingAndGlyphs" stroke="#262626" stroke-width="0.28">40</text>
<circle cx="588.9" cy="559.2" r="1.45" fill="none" stroke="#262626" stroke-width="0.9"/>
<text x="596.6" y="572.2" font-size="12.20" font-weight="bold" fill="#262626" text-anchor="start" textLength="9.3" lengthAdjust="spacingAndGlyphs" stroke="#262626" stroke-width="0.28">N</text>
<text x="567.6" y="587.5" font-size="12.20" font-weight="bold" fill="#262626" text-anchor="start" textLength="16.4" lengthAdjust="spacingAndGlyphs" stroke="#262626" stroke-width="0.28">38</text>
<circle cx="588.9" cy="574.5" r="1.45" fill="none" stroke="#262626" stroke-width="0.9"/>
<text x="596.6" y="587.5" font-size="12.20" font-weight="bold" fill="#262626" text-anchor="start" textLength="9.3" lengthAdjust="spacingAndGlyphs" stroke="#262626" stroke-width="0.28">N</text>
<text x="567.6" y="604.0" font-size="12.20" font-weight="bold" fill="#262626" text-anchor="start" textLength="16.4" lengthAdjust="spacingAndGlyphs" stroke="#262626" stroke-width="0.28">36</text>
<circle cx="588.9" cy="591.0" r="1.45" fill="none" stroke="#262626" stroke-width="0.9"/>
<text x="596.6" y="604.0" font-size="12.20" font-weight="bold" fill="#262626" text-anchor="start" textLength="9.3" lengthAdjust="spacingAndGlyphs" stroke="#262626" stroke-width="0.28">N</text>
<text x="567.6" y="618.3" font-size="12.20" font-weight="bold" fill="#262626" text-anchor="start" textLength="16.4" lengthAdjust="spacingAndGlyphs" stroke="#262626" stroke-width="0.28">34</text>
<circle cx="588.9" cy="605.3" r="1.45" fill="none" stroke="#262626" stroke-width="0.9"/>
<text x="596.6" y="618.3" font-size="12.20" font-weight="bold" fill="#262626" text-anchor="start" textLength="9.3" lengthAdjust="spacingAndGlyphs" stroke="#262626" stroke-width="0.28">N</text>
<text x="567.6" y="635.0" font-size="12.20" font-weight="bold" fill="#262626" text-anchor="start" textLength="16.4" lengthAdjust="spacingAndGlyphs" stroke="#262626" stroke-width="0.28">32</text>
<circle cx="588.9" cy="622.0" r="1.45" fill="none" stroke="#262626" stroke-width="0.9"/>
<text x="596.6" y="635.0" font-size="12.20" font-weight="bold" fill="#262626" text-anchor="start" textLength="9.3" lengthAdjust="spacingAndGlyphs" stroke="#262626" stroke-width="0.28">N</text>
<text x="567.6" y="649.1" font-size="12.20" font-weight="bold" fill="#262626" text-anchor="start" textLength="16.4" lengthAdjust="spacingAndGlyphs" stroke="#262626" stroke-width="0.28">30</text>
<circle cx="588.9" cy="636.1" r="1.45" fill="none" stroke="#262626" stroke-width="0.9"/>
<text x="596.6" y="649.1" font-size="12.20" font-weight="bold" fill="#262626" text-anchor="start" textLength="9.3" lengthAdjust="spacingAndGlyphs" stroke="#262626" stroke-width="0.28">N</text>
<text x="567.6" y="662.2" font-size="12.20" font-weight="bold" fill="#262626" text-anchor="start" textLength="16.4" lengthAdjust="spacingAndGlyphs" stroke="#262626" stroke-width="0.28">28</text>
<circle cx="588.9" cy="649.2" r="1.45" fill="none" stroke="#262626" stroke-width="0.9"/>
<text x="596.6" y="662.2" font-size="12.20" font-weight="bold" fill="#262626" text-anchor="start" textLength="9.3" lengthAdjust="spacingAndGlyphs" stroke="#262626" stroke-width="0.28">N</text>
<text x="567.6" y="677.2" font-size="12.20" font-weight="bold" fill="#262626" text-anchor="start" textLength="16.4" lengthAdjust="spacingAndGlyphs" stroke="#262626" stroke-width="0.28">26</text>
<circle cx="588.9" cy="664.2" r="1.45" fill="none" stroke="#262626" stroke-width="0.9"/>
<text x="596.6" y="677.2" font-size="12.20" font-weight="bold" fill="#262626" text-anchor="start" textLength="9.3" lengthAdjust="spacingAndGlyphs" stroke="#262626" stroke-width="0.28">N</text>
<text x="567.6" y="691.3" font-size="12.20" font-weight="bold" fill="#262626" text-anchor="start" textLength="16.4" lengthAdjust="spacingAndGlyphs" stroke="#262626" stroke-width="0.28">24</text>
<circle cx="588.9" cy="678.3" r="1.45" fill="none" stroke="#262626" stroke-width="0.9"/>
<text x="596.6" y="691.3" font-size="12.20" font-weight="bold" fill="#262626" text-anchor="start" textLength="9.3" lengthAdjust="spacingAndGlyphs" stroke="#262626" stroke-width="0.28">N</text>
<text x="567.6" y="704.1" font-size="12.20" font-weight="bold" fill="#262626" text-anchor="start" textLength="16.4" lengthAdjust="spacingAndGlyphs" stroke="#262626" stroke-width="0.28">22</text>
<circle cx="588.9" cy="691.1" r="1.45" fill="none" stroke="#262626" stroke-width="0.9"/>
<text x="596.6" y="704.1" font-size="12.20" font-weight="bold" fill="#262626" text-anchor="start" textLength="9.3" lengthAdjust="spacingAndGlyphs" stroke="#262626" stroke-width="0.28">N</text>
<text x="636.7" y="466.2" font-size="12.20" font-weight="bold" fill="#262626" text-anchor="start" textLength="24.5" lengthAdjust="spacingAndGlyphs" stroke="#262626" stroke-width="0.28">100</text>
<circle cx="666.2" cy="453.6" r="1.45" fill="none" stroke="#262626" stroke-width="0.9"/>
<text x="673.7" y="466.2" font-size="12.20" font-weight="bold" fill="#262626" text-anchor="start" textLength="13.3" lengthAdjust="spacingAndGlyphs" stroke="#262626" stroke-width="0.28">W</text>
<text x="705.4" y="466.2" font-size="12.20" font-weight="bold" fill="#262626" text-anchor="start" textLength="16.3" lengthAdjust="spacingAndGlyphs" stroke="#262626" stroke-width="0.28">90</text>
<circle cx="725.7" cy="453.6" r="1.45" fill="none" stroke="#262626" stroke-width="0.9"/>
<text x="734.7" y="466.2" font-size="12.20" font-weight="bold" fill="#262626" text-anchor="start" textLength="13.1" lengthAdjust="spacingAndGlyphs" stroke="#262626" stroke-width="0.28">W</text>
<text x="769.5" y="466.2" font-size="12.20" font-weight="bold" fill="#262626" text-anchor="start" textLength="16.8" lengthAdjust="spacingAndGlyphs" stroke="#262626" stroke-width="0.28">80</text>
<circle cx="790.6" cy="453.6" r="1.45" fill="none" stroke="#262626" stroke-width="0.9"/>
<text x="798.8" y="466.2" font-size="12.20" font-weight="bold" fill="#262626" text-anchor="start" textLength="13.2" lengthAdjust="spacingAndGlyphs" stroke="#262626" stroke-width="0.28">W</text>
<text x="833.1" y="466.2" font-size="12.20" font-weight="bold" fill="#262626" text-anchor="start" textLength="15.6" lengthAdjust="spacingAndGlyphs" stroke="#262626" stroke-width="0.28">70</text>
<circle cx="852.7" cy="453.6" r="1.45" fill="none" stroke="#262626" stroke-width="0.9"/>
<text x="861.7" y="466.2" font-size="12.20" font-weight="bold" fill="#262626" text-anchor="start" textLength="13.3" lengthAdjust="spacingAndGlyphs" stroke="#262626" stroke-width="0.28">W</text>
<rect x="862.5" y="483.5" width="23.2" height="218.8" fill="url(#jet)" stroke="#1a1a1a" stroke-width="0.7"/>
<path d="M885.5 531.0h-2.6" stroke="#1a1a1a" stroke-width="0.8"/>
<text x="895.1" y="538.4" font-size="21.00" font-weight="bold" fill="#262626" text-anchor="start" textLength="27.6" lengthAdjust="spacingAndGlyphs" stroke="#262626" stroke-width="0.50">20</text>
<path d="M885.5 592.7h-2.6" stroke="#1a1a1a" stroke-width="0.8"/>
<text x="895.1" y="600.1" font-size="21.00" font-weight="bold" fill="#262626" text-anchor="start" textLength="13.8" lengthAdjust="spacingAndGlyphs" stroke="#262626" stroke-width="0.50">0</text>
<path d="M885.5 654.6h-2.6" stroke="#1a1a1a" stroke-width="0.8"/>
<text x="895.1" y="662.0" font-size="21.00" font-weight="bold" fill="#262626" text-anchor="start" textLength="35.9" lengthAdjust="spacingAndGlyphs" stroke="#262626" stroke-width="0.50">-20</text>
<text x="636.2" y="730.7" font-size="22.80" font-weight="bold" fill="#262626" text-anchor="start" textLength="108.3" lengthAdjust="spacingAndGlyphs" stroke="#262626" stroke-width="0.50">SAT-RAP</text>
<text x="752.6" y="730.7" font-size="22.80" font-weight="bold" fill="#262626" text-anchor="start" textLength="68.2" lengthAdjust="spacingAndGlyphs" stroke="#262626" stroke-width="0.50">CAPE</text>
<rect x="1037.5" y="485.5" width="235.0" height="214.8" fill="#fff" stroke="#262626" stroke-width="1"/>
<g><circle cx="1262.7" cy="529.3" r="3.03" fill="#f7ad08"/><circle cx="1267.5" cy="514.3" r="3.03" fill="#f7ef08"/><circle cx="1245.6" cy="492.7" r="3.03" fill="#6af795"/><circle cx="1267.5" cy="507.4" r="3.03" fill="#cff730"/><circle cx="1251.6" cy="496.4" r="3.03" fill="#77f788"/><circle cx="1264.9" cy="539.6" r="3.03" fill="#f79908"/><circle cx="1253.9" cy="492.8" r="3.03" fill="#79f786"/><circle cx="1267.2" cy="550.6" r="3.03" fill="#aa0808"/><circle cx="1238.9" cy="488.9" r="3.03" fill="#60f79f"/><circle cx="1262.8" cy="506.8" r="3.03" fill="#daf725"/><circle cx="1234.2" cy="492.9" r="3.03" fill="#5bf7a4"/><circle cx="1265.1" cy="510.8" r="3.03" fill="#ebf714"/><circle cx="1235.9" cy="495.9" r="3.03" fill="#64f79b"/><circle cx="1254.4" cy="528.9" r="3.03" fill="#f78508"/><circle cx="1269.7" cy="510.9" r="3.03" fill="#eff710"/><circle cx="1252.2" cy="503.6" r="3.03" fill="#b0f74f"/><circle cx="1271.9" cy="536.1" r="3.03" fill="#990808"/><circle cx="1240.8" cy="485.4" r="3.03" fill="#67f798"/><circle cx="1271.9" cy="507.0" r="3.03" fill="#d3f72c"/><circle cx="1265.0" cy="554.4" r="3.03" fill="#a30808"/><circle cx="1262.7" cy="550.8" r="3.03" fill="#f74b08"/><circle cx="1237.5" cy="500.1" r="3.03" fill="#9df762"/><circle cx="1232.6" cy="488.9" r="3.03" fill="#56f7a9"/><circle cx="1258.9" cy="492.7" r="3.03" fill="#7ef781"/><circle cx="1258.8" cy="543.2" r="3.03" fill="#f74908"/><circle cx="1262.7" cy="521.8" r="3.03" fill="#f7cd08"/><circle cx="1258.8" cy="514.8" r="3.03" fill="#f7f508"/><circle cx="1262.9" cy="500.2" r="3.03" fill="#a0f75f"/><circle cx="1249.6" cy="493.0" r="3.03" fill="#7ef781"/><circle cx="1269.7" cy="496.2" r="3.03" fill="#92f76d"/><circle cx="1260.9" cy="503.9" r="3.03" fill="#bdf742"/><circle cx="1254.0" cy="499.8" r="3.03" fill="#a8f757"/><circle cx="1245.1" cy="507.1" r="3.03" fill="#cef731"/><circle cx="1269.7" cy="525.7" r="3.03" fill="#f7bf08"/><circle cx="1262.9" cy="514.4" r="3.03" fill="#f7e608"/><circle cx="1249.7" cy="514.1" r="3.03" fill="#f7eb08"/><circle cx="1271.9" cy="499.5" r="3.03" fill="#b3f74c"/><circle cx="1255.3" cy="540.0" r="3.03" fill="#f76d08"/><circle cx="1267.7" cy="485.4" r="3.03" fill="#85f77a"/><circle cx="1238.4" cy="496.6" r="3.03" fill="#66f799"/><circle cx="1243.0" cy="503.2" r="3.03" fill="#b6f749"/><circle cx="1248.8" cy="525.3" r="3.03" fill="#f78b08"/><circle cx="1244.9" cy="499.9" r="3.03" fill="#94f76b"/><circle cx="1243.9" cy="514.8" r="3.03" fill="#f7e908"/><circle cx="1258.7" cy="499.8" r="3.03" fill="#97f768"/><circle cx="1249.4" cy="500.3" r="3.03" fill="#9ff760"/><circle cx="1260.9" cy="496.0" r="3.03" fill="#8ef771"/><circle cx="1249.7" cy="507.5" r="3.03" fill="#cff730"/><circle cx="1231.0" cy="485.4" r="3.03" fill="#53f7ac"/><circle cx="1258.3" cy="536.5" r="3.03" fill="#f77108"/><circle cx="1260.1" cy="550.4" r="3.03" fill="#f75808"/><circle cx="1261.0" cy="489.0" r="3.03" fill="#7ff780"/><circle cx="1269.7" cy="539.9" r="3.03" fill="#ab0808"/><circle cx="1256.9" cy="543.9" r="3.03" fill="#f75208"/><circle cx="1252.0" cy="532.4" r="3.03" fill="#f77a08"/><circle cx="1265.2" cy="546.8" r="3.03" fill="#9e0808"/><circle cx="1269.7" cy="547.1" r="3.03" fill="#ac0808"/><circle cx="1242.3" cy="511.1" r="3.03" fill="#f3f70c"/><circle cx="1245.6" cy="517.8" r="3.03" fill="#f79d08"/><circle cx="1271.9" cy="521.7" r="3.03" fill="#f7d708"/><circle cx="1256.3" cy="510.7" r="3.03" fill="#e3f71c"/><circle cx="1244.9" cy="514.7" r="3.03" fill="#f7f108"/><circle cx="1247.7" cy="488.8" r="3.03" fill="#68f797"/><circle cx="1247.3" cy="496.0" r="3.03" fill="#7df782"/><circle cx="1247.5" cy="503.7" r="3.03" fill="#a9f756"/><circle cx="1263.3" cy="485.4" r="3.03" fill="#88f777"/><circle cx="1249.3" cy="485.4" r="3.03" fill="#63f79c"/><circle cx="1267.1" cy="492.4" r="3.03" fill="#90f76f"/><circle cx="1258.7" cy="521.4" r="3.03" fill="#f7d608"/><circle cx="1251.7" cy="489.1" r="3.03" fill="#72f78d"/><circle cx="1267.8" cy="543.7" r="3.03" fill="#a60808"/><circle cx="1267.6" cy="529.2" r="3.03" fill="#f7c408"/><circle cx="1253.6" cy="536.5" r="3.03" fill="#f77d08"/><circle cx="1260.5" cy="525.6" r="3.03" fill="#f78908"/><circle cx="1249.4" cy="521.8" r="3.03" fill="#f79e08"/><circle cx="1269.7" cy="489.2" r="3.03" fill="#8cf773"/><circle cx="1243.0" cy="496.0" r="3.03" fill="#79f786"/><circle cx="1271.9" cy="514.3" r="3.03" fill="#f7ef08"/><circle cx="1250.4" cy="529.3" r="3.03" fill="#f79308"/><circle cx="1256.3" cy="503.8" r="3.03" fill="#b0f74f"/><circle cx="1241.0" cy="492.8" r="3.03" fill="#78f787"/><circle cx="1271.9" cy="528.9" r="3.03" fill="#f7bb08"/><circle cx="1267.8" cy="536.2" r="3.03" fill="#aa0808"/><circle cx="1259.3" cy="485.4" r="3.03" fill="#7bf784"/><circle cx="1254.0" cy="514.0" r="3.03" fill="#f7ea08"/><circle cx="1269.7" cy="532.8" r="3.03" fill="#980808"/><circle cx="1247.2" cy="521.7" r="3.03" fill="#f7ab08"/><circle cx="1265.1" cy="489.3" r="3.03" fill="#7ef781"/><circle cx="1258.5" cy="547.2" r="3.03" fill="#f75208"/><circle cx="1256.1" cy="518.4" r="3.03" fill="#f7de08"/><circle cx="1256.4" cy="489.2" r="3.03" fill="#71f78e"/><circle cx="1269.7" cy="554.2" r="3.03" fill="#9d0808"/><circle cx="1258.3" cy="507.3" r="3.03" fill="#d7f728"/><circle cx="1251.8" cy="485.4" r="3.03" fill="#6ef791"/><circle cx="1271.9" cy="543.7" r="3.03" fill="#990808"/><circle cx="1245.4" cy="485.4" r="3.03" fill="#65f79a"/><circle cx="1236.6" cy="485.4" r="3.03" fill="#64f79b"/><circle cx="1269.7" cy="503.3" r="3.03" fill="#c0f73f"/><circle cx="1263.4" cy="535.9" r="3.03" fill="#f79908"/><circle cx="1269.7" cy="518.3" r="3.03" fill="#f7e408"/><circle cx="1267.1" cy="521.6" r="3.03" fill="#f7d308"/><circle cx="1271.9" cy="492.6" r="3.03" fill="#9df762"/><circle cx="1233.8" cy="489.3" r="3.03" fill="#55f7aa"/><circle cx="1263.1" cy="492.5" r="3.03" fill="#8bf774"/><circle cx="1247.7" cy="518.3" r="3.03" fill="#f79908"/><circle cx="1256.7" cy="496.3" r="3.03" fill="#8bf774"/><circle cx="1241.0" cy="499.8" r="3.03" fill="#8ef771"/><circle cx="1265.3" cy="525.5" r="3.03" fill="#f7b408"/><circle cx="1258.9" cy="528.9" r="3.03" fill="#f78308"/><circle cx="1252.2" cy="510.7" r="3.03" fill="#e1f71e"/><circle cx="1261.1" cy="517.7" r="3.03" fill="#f7d808"/><circle cx="1236.6" cy="493.0" r="3.03" fill="#66f799"/><circle cx="1254.3" cy="521.4" r="3.03" fill="#f7a108"/><circle cx="1243.3" cy="489.2" r="3.03" fill="#70f78f"/><circle cx="1252.0" cy="518.0" r="3.03" fill="#f79d08"/><circle cx="1260.7" cy="539.5" r="3.03" fill="#f76f08"/><circle cx="1247.6" cy="511.2" r="3.03" fill="#f4f70b"/><circle cx="1262.9" cy="543.2" r="3.03" fill="#f74c08"/><circle cx="1261.2" cy="532.4" r="3.03" fill="#f79608"/><circle cx="1265.6" cy="503.9" r="3.03" fill="#c7f738"/><circle cx="1271.9" cy="550.8" r="3.03" fill="#9f0808"/><circle cx="1240.7" cy="507.4" r="3.03" fill="#c8f737"/><circle cx="1260.8" cy="510.5" r="3.03" fill="#f0f70f"/><circle cx="1260.5" cy="547.1" r="3.03" fill="#f75608"/><circle cx="1256.7" cy="532.3" r="3.03" fill="#f78a08"/><circle cx="1261.7" cy="554.3" r="3.03" fill="#f75a08"/><circle cx="1256.0" cy="525.4" r="3.03" fill="#f79208"/><circle cx="1239.1" cy="503.9" r="3.03" fill="#abf754"/><circle cx="1252.3" cy="525.7" r="3.03" fill="#f79008"/><circle cx="1271.9" cy="485.4" r="3.03" fill="#90f76f"/><circle cx="1254.0" cy="507.0" r="3.03" fill="#d9f726"/><circle cx="1265.1" cy="518.4" r="3.03" fill="#f7d908"/><circle cx="1267.7" cy="499.5" r="3.03" fill="#b0f74f"/><circle cx="1264.9" cy="532.8" r="3.03" fill="#f7a108"/><circle cx="1265.3" cy="496.1" r="3.03" fill="#87f778"/><path d="M1254.3 514.0L1258.1 519.7" stroke="#fff" stroke-width="1.9" stroke-linecap="round" fill="none"/></g>
<path d="M1272.5 496.0v204.3" stroke="#262626" stroke-width="1"/>
<use href="#m" transform="translate(1037.50,485.50) scale(1.0086)"/>
<text x="988.6" y="502.4" font-size="12.20" font-weight="bold" fill="#262626" text-anchor="start" textLength="15.7" lengthAdjust="spacingAndGlyphs" stroke="#262626" stroke-width="0.28">48</text>
<circle cx="1009.2" cy="489.4" r="1.45" fill="none" stroke="#262626" stroke-width="0.9"/>
<text x="1018.0" y="502.4" font-size="12.20" font-weight="bold" fill="#262626" text-anchor="start" textLength="8.9" lengthAdjust="spacingAndGlyphs" stroke="#262626" stroke-width="0.28">N</text>
<text x="988.6" y="519.9" font-size="12.20" font-weight="bold" fill="#262626" text-anchor="start" textLength="15.7" lengthAdjust="spacingAndGlyphs" stroke="#262626" stroke-width="0.28">46</text>
<circle cx="1009.2" cy="506.9" r="1.45" fill="none" stroke="#262626" stroke-width="0.9"/>
<text x="1018.0" y="519.9" font-size="12.20" font-weight="bold" fill="#262626" text-anchor="start" textLength="8.9" lengthAdjust="spacingAndGlyphs" stroke="#262626" stroke-width="0.28">N</text>
<text x="988.6" y="537.3" font-size="12.20" font-weight="bold" fill="#262626" text-anchor="start" textLength="15.7" lengthAdjust="spacingAndGlyphs" stroke="#262626" stroke-width="0.28">44</text>
<circle cx="1009.2" cy="524.3" r="1.45" fill="none" stroke="#262626" stroke-width="0.9"/>
<text x="1018.0" y="537.3" font-size="12.20" font-weight="bold" fill="#262626" text-anchor="start" textLength="8.9" lengthAdjust="spacingAndGlyphs" stroke="#262626" stroke-width="0.28">N</text>
<text x="988.6" y="556.4" font-size="12.20" font-weight="bold" fill="#262626" text-anchor="start" textLength="15.7" lengthAdjust="spacingAndGlyphs" stroke="#262626" stroke-width="0.28">42</text>
<circle cx="1009.2" cy="543.4" r="1.45" fill="none" stroke="#262626" stroke-width="0.9"/>
<text x="1018.0" y="556.4" font-size="12.20" font-weight="bold" fill="#262626" text-anchor="start" textLength="8.9" lengthAdjust="spacingAndGlyphs" stroke="#262626" stroke-width="0.28">N</text>
<text x="988.6" y="572.2" font-size="12.20" font-weight="bold" fill="#262626" text-anchor="start" textLength="15.7" lengthAdjust="spacingAndGlyphs" stroke="#262626" stroke-width="0.28">40</text>
<circle cx="1009.2" cy="559.2" r="1.45" fill="none" stroke="#262626" stroke-width="0.9"/>
<text x="1018.0" y="572.2" font-size="12.20" font-weight="bold" fill="#262626" text-anchor="start" textLength="8.9" lengthAdjust="spacingAndGlyphs" stroke="#262626" stroke-width="0.28">N</text>
<text x="988.6" y="587.5" font-size="12.20" font-weight="bold" fill="#262626" text-anchor="start" textLength="15.7" lengthAdjust="spacingAndGlyphs" stroke="#262626" stroke-width="0.28">38</text>
<circle cx="1009.2" cy="574.5" r="1.45" fill="none" stroke="#262626" stroke-width="0.9"/>
<text x="1018.0" y="587.5" font-size="12.20" font-weight="bold" fill="#262626" text-anchor="start" textLength="8.9" lengthAdjust="spacingAndGlyphs" stroke="#262626" stroke-width="0.28">N</text>
<text x="988.6" y="604.0" font-size="12.20" font-weight="bold" fill="#262626" text-anchor="start" textLength="15.7" lengthAdjust="spacingAndGlyphs" stroke="#262626" stroke-width="0.28">36</text>
<circle cx="1009.2" cy="591.0" r="1.45" fill="none" stroke="#262626" stroke-width="0.9"/>
<text x="1018.0" y="604.0" font-size="12.20" font-weight="bold" fill="#262626" text-anchor="start" textLength="8.9" lengthAdjust="spacingAndGlyphs" stroke="#262626" stroke-width="0.28">N</text>
<text x="988.6" y="618.3" font-size="12.20" font-weight="bold" fill="#262626" text-anchor="start" textLength="15.7" lengthAdjust="spacingAndGlyphs" stroke="#262626" stroke-width="0.28">34</text>
<circle cx="1009.2" cy="605.3" r="1.45" fill="none" stroke="#262626" stroke-width="0.9"/>
<text x="1018.0" y="618.3" font-size="12.20" font-weight="bold" fill="#262626" text-anchor="start" textLength="8.9" lengthAdjust="spacingAndGlyphs" stroke="#262626" stroke-width="0.28">N</text>
<text x="988.6" y="635.0" font-size="12.20" font-weight="bold" fill="#262626" text-anchor="start" textLength="15.7" lengthAdjust="spacingAndGlyphs" stroke="#262626" stroke-width="0.28">32</text>
<circle cx="1009.2" cy="622.0" r="1.45" fill="none" stroke="#262626" stroke-width="0.9"/>
<text x="1018.0" y="635.0" font-size="12.20" font-weight="bold" fill="#262626" text-anchor="start" textLength="8.9" lengthAdjust="spacingAndGlyphs" stroke="#262626" stroke-width="0.28">N</text>
<text x="988.6" y="649.1" font-size="12.20" font-weight="bold" fill="#262626" text-anchor="start" textLength="15.7" lengthAdjust="spacingAndGlyphs" stroke="#262626" stroke-width="0.28">30</text>
<circle cx="1009.2" cy="636.1" r="1.45" fill="none" stroke="#262626" stroke-width="0.9"/>
<text x="1018.0" y="649.1" font-size="12.20" font-weight="bold" fill="#262626" text-anchor="start" textLength="8.9" lengthAdjust="spacingAndGlyphs" stroke="#262626" stroke-width="0.28">N</text>
<text x="988.6" y="662.2" font-size="12.20" font-weight="bold" fill="#262626" text-anchor="start" textLength="15.7" lengthAdjust="spacingAndGlyphs" stroke="#262626" stroke-width="0.28">28</text>
<circle cx="1009.2" cy="649.2" r="1.45" fill="none" stroke="#262626" stroke-width="0.9"/>
<text x="1018.0" y="662.2" font-size="12.20" font-weight="bold" fill="#262626" text-anchor="start" textLength="8.9" lengthAdjust="spacingAndGlyphs" stroke="#262626" stroke-width="0.28">N</text>
<text x="988.6" y="677.2" font-size="12.20" font-weight="bold" fill="#262626" text-anchor="start" textLength="15.7" lengthAdjust="spacingAndGlyphs" stroke="#262626" stroke-width="0.28">26</text>
<circle cx="1009.2" cy="664.2" r="1.45" fill="none" stroke="#262626" stroke-width="0.9"/>
<text x="1018.0" y="677.2" font-size="12.20" font-weight="bold" fill="#262626" text-anchor="start" textLength="8.9" lengthAdjust="spacingAndGlyphs" stroke="#262626" stroke-width="0.28">N</text>
<text x="988.6" y="691.3" font-size="12.20" font-weight="bold" fill="#262626" text-anchor="start" textLength="15.7" lengthAdjust="spacingAndGlyphs" stroke="#262626" stroke-width="0.28">24</text>
<circle cx="1009.2" cy="678.3" r="1.45" fill="none" stroke="#262626" stroke-width="0.9"/>
<text x="1018.0" y="691.3" font-size="12.20" font-weight="bold" fill="#262626" text-anchor="start" textLength="8.9" lengthAdjust="spacingAndGlyphs" stroke="#262626" stroke-width="0.28">N</text>
<text x="988.6" y="704.1" font-size="12.20" font-weight="bold" fill="#262626" text-anchor="start" textLength="15.7" lengthAdjust="spacingAndGlyphs" stroke="#262626" stroke-width="0.28">22</text>
<circle cx="1009.2" cy="691.1" r="1.45" fill="none" stroke="#262626" stroke-width="0.9"/>
<text x="1018.0" y="704.1" font-size="12.20" font-weight="bold" fill="#262626" text-anchor="start" textLength="8.9" lengthAdjust="spacingAndGlyphs" stroke="#262626" stroke-width="0.28">N</text>
<text x="1059.7" y="464.2" font-size="12.20" font-weight="bold" fill="#262626" text-anchor="start" textLength="24.6" lengthAdjust="spacingAndGlyphs" stroke="#262626" stroke-width="0.28">100</text>
<circle cx="1087.8" cy="451.6" r="1.45" fill="none" stroke="#262626" stroke-width="0.9"/>
<text x="1096.5" y="464.2" font-size="12.20" font-weight="bold" fill="#262626" text-anchor="start" textLength="13.1" lengthAdjust="spacingAndGlyphs" stroke="#262626" stroke-width="0.28">W</text>
<text x="1127.8" y="464.2" font-size="12.20" font-weight="bold" fill="#262626" text-anchor="start" textLength="16.9" lengthAdjust="spacingAndGlyphs" stroke="#262626" stroke-width="0.28">90</text>
<circle cx="1148.6" cy="451.6" r="1.45" fill="none" stroke="#262626" stroke-width="0.9"/>
<text x="1156.8" y="464.2" font-size="12.20" font-weight="bold" fill="#262626" text-anchor="start" textLength="13.0" lengthAdjust="spacingAndGlyphs" stroke="#262626" stroke-width="0.28">W</text>
<text x="1190.6" y="464.2" font-size="12.20" font-weight="bold" fill="#262626" text-anchor="start" textLength="17.0" lengthAdjust="spacingAndGlyphs" stroke="#262626" stroke-width="0.28">80</text>
<circle cx="1211.0" cy="451.6" r="1.45" fill="none" stroke="#262626" stroke-width="0.9"/>
<text x="1219.7" y="464.2" font-size="12.20" font-weight="bold" fill="#262626" text-anchor="start" textLength="13.0" lengthAdjust="spacingAndGlyphs" stroke="#262626" stroke-width="0.28">W</text>
<text x="1255.9" y="464.2" font-size="12.20" font-weight="bold" fill="#262626" text-anchor="start" textLength="15.6" lengthAdjust="spacingAndGlyphs" stroke="#262626" stroke-width="0.28">70</text>
<circle cx="1275.5" cy="451.6" r="1.45" fill="none" stroke="#262626" stroke-width="0.9"/>
<text x="1284.7" y="464.2" font-size="12.20" font-weight="bold" fill="#262626" text-anchor="start" textLength="13.0" lengthAdjust="spacingAndGlyphs" stroke="#262626" stroke-width="0.28">W</text>
<rect x="1285.4" y="483.5" width="23.0" height="218.8" fill="url(#jet)" stroke="#1a1a1a" stroke-width="0.7"/>
<text x="1318.0" y="491.4" font-size="21.00" font-weight="bold" fill="#262626" text-anchor="start" textLength="41.4" lengthAdjust="spacingAndGlyphs" stroke="#262626" stroke-width="0.50">270</text>
<path d="M1308.3 529.8h-2.6" stroke="#1a1a1a" stroke-width="0.8"/>
<text x="1318.0" y="537.1" font-size="21.00" font-weight="bold" fill="#262626" text-anchor="start" textLength="41.4" lengthAdjust="spacingAndGlyphs" stroke="#262626" stroke-width="0.50">260</text>
<path d="M1308.3 575.6h-2.6" stroke="#1a1a1a" stroke-width="0.8"/>
<text x="1318.0" y="583.0" font-size="21.00" font-weight="bold" fill="#262626" text-anchor="start" textLength="41.4" lengthAdjust="spacingAndGlyphs" stroke="#262626" stroke-width="0.50">250</text>
<path d="M1308.3 621.7h-2.6" stroke="#1a1a1a" stroke-width="0.8"/>
<text x="1318.0" y="629.1" font-size="21.00" font-weight="bold" fill="#262626" text-anchor="start" textLength="41.4" lengthAdjust="spacingAndGlyphs" stroke="#262626" stroke-width="0.50">240</text>
<path d="M1308.3 668.3h-2.6" stroke="#1a1a1a" stroke-width="0.8"/>
<text x="1318.0" y="675.6" font-size="21.00" font-weight="bold" fill="#262626" text-anchor="start" textLength="41.4" lengthAdjust="spacingAndGlyphs" stroke="#262626" stroke-width="0.50">230</text>
<text x="959.4" y="730.7" font-size="22.80" font-weight="bold" fill="#262626" text-anchor="start" textLength="98.7" lengthAdjust="spacingAndGlyphs" stroke="#262626" stroke-width="0.50">Surface</text>
<text x="1066.1" y="730.7" font-size="22.80" font-weight="bold" fill="#262626" text-anchor="start" textLength="55.9" lengthAdjust="spacingAndGlyphs" stroke="#262626" stroke-width="0.50">Skin</text>
<text x="1130.0" y="730.7" font-size="22.80" font-weight="bold" fill="#262626" text-anchor="start" textLength="164.9" lengthAdjust="spacingAndGlyphs" stroke="#262626" stroke-width="0.50">Temperature</text>
<text x="1302.9" y="730.7" font-size="22.80" font-weight="bold" fill="#262626" text-anchor="start" textLength="38.7" lengthAdjust="spacingAndGlyphs" stroke="#262626" stroke-width="0.50">(K)</text>
</svg></body></html>
